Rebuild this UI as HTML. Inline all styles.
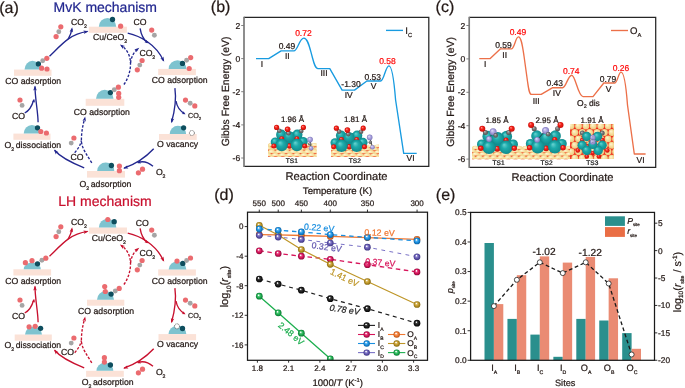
<!DOCTYPE html>
<html><head><meta charset="utf-8"><style>
html,body{margin:0;padding:0;background:#fff;width:685px;height:388px;overflow:hidden}
svg{display:block;will-change:transform}
text{font-family:"Liberation Sans",sans-serif;text-rendering:geometricPrecision}
</style></head><body>
<svg width="685" height="388" viewBox="0 0 685 388">
<defs><radialGradient id="gTeal" cx="50%" cy="50%" r="50%" fx="35%" fy="30%"><stop offset="0" stop-color="#6AD4D2"/><stop offset="0.45" stop-color="#1DABAB"/><stop offset="1" stop-color="#118A8C"/></radialGradient><radialGradient id="gRed" cx="50%" cy="50%" r="50%" fx="35%" fy="30%"><stop offset="0" stop-color="#FF9C92"/><stop offset="0.45" stop-color="#F5221A"/><stop offset="1" stop-color="#C80E08"/></radialGradient><radialGradient id="gGray" cx="50%" cy="50%" r="50%" fx="35%" fy="30%"><stop offset="0" stop-color="#C8C8C8"/><stop offset="0.45" stop-color="#7C7C7C"/><stop offset="1" stop-color="#525252"/></radialGradient><radialGradient id="gLav" cx="50%" cy="50%" r="50%" fx="35%" fy="30%"><stop offset="0" stop-color="#E4E0FA"/><stop offset="0.45" stop-color="#B3ACE4"/><stop offset="1" stop-color="#8078BC"/></radialGradient><radialGradient id="gSlab" cx="50%" cy="50%" r="50%" fx="35%" fy="30%"><stop offset="0" stop-color="#FFF8DC"/><stop offset="0.45" stop-color="#FAE8B0"/><stop offset="1" stop-color="#F2D48C"/></radialGradient><radialGradient id="gTan" cx="50%" cy="50%" r="50%" fx="35%" fy="30%"><stop offset="0" stop-color="#FFF6DA"/><stop offset="0.45" stop-color="#F8E3A6"/><stop offset="1" stop-color="#EDCB80"/></radialGradient><radialGradient id="gK" cx="50%" cy="50%" r="50%" fx="38%" fy="32%"><stop offset="0" stop-color="#ffffff"/><stop offset="0.12" stop-color="#ffffff" stop-opacity="0.9"/><stop offset="0.3" stop-color="#444444"/><stop offset="0.62" stop-color="#1E1E1E"/><stop offset="1" stop-color="#050505"/></radialGradient><radialGradient id="gM" cx="50%" cy="50%" r="50%" fx="38%" fy="32%"><stop offset="0" stop-color="#ffffff"/><stop offset="0.12" stop-color="#ffffff" stop-opacity="0.9"/><stop offset="0.3" stop-color="#E8508A"/><stop offset="0.62" stop-color="#D7145A"/><stop offset="1" stop-color="#8E0A3C"/></radialGradient><radialGradient id="gB" cx="50%" cy="50%" r="50%" fx="38%" fy="32%"><stop offset="0" stop-color="#ffffff"/><stop offset="0.12" stop-color="#ffffff" stop-opacity="0.9"/><stop offset="0.3" stop-color="#5BB6F2"/><stop offset="0.62" stop-color="#1A8FE0"/><stop offset="1" stop-color="#0E62A2"/></radialGradient><radialGradient id="gP" cx="50%" cy="50%" r="50%" fx="38%" fy="32%"><stop offset="0" stop-color="#ffffff"/><stop offset="0.12" stop-color="#ffffff" stop-opacity="0.9"/><stop offset="0.3" stop-color="#9189D0"/><stop offset="0.62" stop-color="#6459B0"/><stop offset="1" stop-color="#3E3582"/></radialGradient><radialGradient id="gO" cx="50%" cy="50%" r="50%" fx="38%" fy="32%"><stop offset="0" stop-color="#ffffff"/><stop offset="0.12" stop-color="#ffffff" stop-opacity="0.9"/><stop offset="0.3" stop-color="#F7A470"/><stop offset="0.62" stop-color="#F07832"/><stop offset="1" stop-color="#B85012"/></radialGradient><radialGradient id="gY" cx="50%" cy="50%" r="50%" fx="38%" fy="32%"><stop offset="0" stop-color="#ffffff"/><stop offset="0.12" stop-color="#ffffff" stop-opacity="0.9"/><stop offset="0.3" stop-color="#D8B85E"/><stop offset="0.62" stop-color="#BE9628"/><stop offset="1" stop-color="#85680E"/></radialGradient><radialGradient id="gG" cx="50%" cy="50%" r="50%" fx="38%" fy="32%"><stop offset="0" stop-color="#ffffff"/><stop offset="0.12" stop-color="#ffffff" stop-opacity="0.9"/><stop offset="0.3" stop-color="#5ACB80"/><stop offset="0.62" stop-color="#1EAF50"/><stop offset="1" stop-color="#0C7632"/></radialGradient><clipPath id="cB1"><rect x="268" y="140" width="48.6" height="17"/></clipPath><clipPath id="cB2"><rect x="331" y="140" width="48" height="17"/></clipPath><clipPath id="cC1"><rect x="472" y="140" width="98.4" height="19.3"/></clipPath><clipPath id="cTS3"><rect x="570.1" y="124.1" width="43.8" height="34.9"/></clipPath></defs>
<text x="53.5" y="12" font-size="14" fill="#22278F" stroke="#22278F" stroke-width="0.22">MvK mechanism</text>
<text x="58.3" y="205.7" font-size="14" fill="#C8102E" stroke="#C8102E" stroke-width="0.22">LH mechanism</text>
<path d="M49.50 56.20 C56.00 50.00 62.00 43.50 68.40 38.90 C74.00 35.00 80.00 32.60 87.50 31.40 " fill="none" stroke="#22278F" stroke-width="1.35"  stroke-linecap="butt"/>
<path d="M68.20 39.20 C70.00 36.00 71.30 32.50 72.00 28.80 " fill="none" stroke="#22278F" stroke-width="1.35"  stroke-linecap="butt"/>
<path d="M88.50,31.20 L83.97,33.95 L84.69,32.01 L83.25,30.53 Z" fill="#22278F"/>
<path d="M72.20,27.20 L73.06,32.43 L71.52,31.04 L69.61,31.82 Z" fill="#22278F"/>
<path d="M127.70 33.20 C140.00 36.00 156.00 44.00 163.50 60.80 " fill="none" stroke="#22278F" stroke-width="1.35"  stroke-linecap="butt"/>
<path d="M140.10 28.30 C141.00 34.00 143.00 39.00 147.50 42.80 " fill="none" stroke="#22278F" stroke-width="1.35"  stroke-linecap="butt"/>
<path d="M164.20,61.80 L160.31,58.21 L162.37,58.36 L163.40,56.56 Z" fill="#22278F"/>
<path d="M148.20,43.30 L144.48,42.14 L146.05,41.50 L146.41,39.84 Z" fill="#22278F"/>
<path d="M174.90 88.20 C176.00 96.00 175.00 110.00 171.60 122.00 " fill="none" stroke="#22278F" stroke-width="1.35"  stroke-linecap="butt"/>
<path d="M176.00 101.00 C177.00 107.00 180.00 111.00 184.50 113.60 " fill="none" stroke="#22278F" stroke-width="1.35"  stroke-linecap="butt"/>
<path d="M171.30,123.20 L170.90,117.92 L172.31,119.43 L174.28,118.82 Z" fill="#22278F"/>
<path d="M185.60,114.20 L181.70,114.04 L183.06,113.01 L182.97,111.32 Z" fill="#22278F"/>
<path d="M153.70 148.80 C146.00 157.00 136.00 164.00 124.00 168.20 " fill="none" stroke="#22278F" stroke-width="1.35"  stroke-linecap="butt"/>
<path d="M153.00 166.30 C148.00 162.00 142.00 161.00 137.70 162.60 " fill="none" stroke="#22278F" stroke-width="1.35"  stroke-linecap="butt"/>
<path d="M123.20,168.50 L127.41,165.29 L126.91,167.29 L128.50,168.62 Z" fill="#22278F"/>
<path d="M137.20,162.90 L140.29,160.52 L139.91,162.17 L141.07,163.42 Z" fill="#22278F"/>
<path d="M84.20 167.80 C72.00 163.00 61.00 158.00 54.60 150.30 " fill="none" stroke="#22278F" stroke-width="1.35"  stroke-linecap="butt"/>
<path d="M54.00,149.60 L58.55,152.31 L56.51,152.59 L55.87,154.56 Z" fill="#22278F"/>
<path d="M38.10 122.30 C38.00 112.00 35.00 98.00 35.00 86.50 " fill="none" stroke="#22278F" stroke-width="1.35"  stroke-linecap="butt"/>
<path d="M24.70 113.00 C29.00 111.00 32.00 106.00 33.80 99.80 " fill="none" stroke="#22278F" stroke-width="1.35"  stroke-linecap="butt"/>
<path d="M35.00,85.60 L36.75,90.60 L35.00,89.50 L33.25,90.60 Z" fill="#22278F"/>
<path d="M34.20,99.00 L35.05,102.81 L33.71,101.77 L32.10,102.28 Z" fill="#22278F"/>
<path d="M91.80 162.80 C87.00 155.00 81.40 148.00 81.40 140.20 C81.40 132.00 83.00 124.00 84.80 118.50 " fill="none" stroke="#22278F" stroke-width="1.35" stroke-dasharray="2.6,1.6" stroke-linecap="butt"/>
<path d="M74.70 152.70 C78.00 149.00 80.50 145.00 81.40 140.50 " fill="none" stroke="#22278F" stroke-width="1.35" stroke-dasharray="2.6,1.6" stroke-linecap="butt"/>
<path d="M85.20,116.50 L85.87,121.75 L84.39,120.31 L82.45,121.03 Z" fill="#22278F"/>
<path d="M123.90 84.50 C128.50 78.00 130.80 70.00 130.50 62.50 C130.20 55.00 126.50 49.00 121.30 45.60 " fill="none" stroke="#22278F" stroke-width="1.35" stroke-dasharray="2.6,1.6" stroke-linecap="butt"/>
<path d="M130.50 63.00 C131.30 56.50 134.20 51.50 138.20 48.60 " fill="none" stroke="#22278F" stroke-width="1.35" stroke-dasharray="2.6,1.6" stroke-linecap="butt"/>
<path d="M119.90,44.60 L125.00,46.03 L123.09,46.84 L122.99,48.90 Z" fill="#22278F"/>
<path d="M139.30,47.80 L136.44,52.26 L136.23,50.20 L134.28,49.50 Z" fill="#22278F"/>
<path d="M49.50 256.20 C56.00 250.00 62.00 243.50 68.40 238.90 C74.00 235.00 80.00 232.60 87.50 231.40 " fill="none" stroke="#C8102E" stroke-width="1.35"  stroke-linecap="butt"/>
<path d="M68.20 239.20 C70.00 236.00 71.30 232.50 72.00 228.80 " fill="none" stroke="#C8102E" stroke-width="1.35"  stroke-linecap="butt"/>
<path d="M88.50,231.20 L83.97,233.95 L84.69,232.01 L83.25,230.53 Z" fill="#C8102E"/>
<path d="M72.20,227.20 L73.06,232.43 L71.52,231.04 L69.61,231.82 Z" fill="#C8102E"/>
<path d="M127.70 233.20 C140.00 236.00 156.00 244.00 163.50 260.80 " fill="none" stroke="#C8102E" stroke-width="1.35"  stroke-linecap="butt"/>
<path d="M140.10 228.30 C141.00 234.00 143.00 239.00 147.50 242.80 " fill="none" stroke="#C8102E" stroke-width="1.35"  stroke-linecap="butt"/>
<path d="M164.20,261.80 L160.31,258.21 L162.37,258.36 L163.40,256.56 Z" fill="#C8102E"/>
<path d="M148.20,243.30 L144.48,242.14 L146.05,241.50 L146.41,239.84 Z" fill="#C8102E"/>
<path d="M174.90 288.20 C176.00 296.00 175.00 310.00 171.60 322.00 " fill="none" stroke="#C8102E" stroke-width="1.35"  stroke-linecap="butt"/>
<path d="M176.00 301.00 C177.00 307.00 180.00 311.00 184.50 313.60 " fill="none" stroke="#C8102E" stroke-width="1.35"  stroke-linecap="butt"/>
<path d="M171.30,323.20 L170.90,317.92 L172.31,319.43 L174.28,318.82 Z" fill="#C8102E"/>
<path d="M185.60,314.20 L181.70,314.04 L183.06,313.01 L182.97,311.32 Z" fill="#C8102E"/>
<path d="M153.70 348.80 C146.00 357.00 136.00 364.00 124.00 368.20 " fill="none" stroke="#C8102E" stroke-width="1.35"  stroke-linecap="butt"/>
<path d="M153.00 366.30 C148.00 362.00 142.00 361.00 137.70 362.60 " fill="none" stroke="#C8102E" stroke-width="1.35"  stroke-linecap="butt"/>
<path d="M123.20,368.50 L127.41,365.29 L126.91,367.29 L128.50,368.62 Z" fill="#C8102E"/>
<path d="M137.20,362.90 L140.29,360.52 L139.91,362.17 L141.07,363.42 Z" fill="#C8102E"/>
<path d="M84.20 367.80 C72.00 363.00 61.00 358.00 54.60 350.30 " fill="none" stroke="#C8102E" stroke-width="1.35"  stroke-linecap="butt"/>
<path d="M54.00,349.60 L58.55,352.31 L56.51,352.59 L55.87,354.56 Z" fill="#C8102E"/>
<path d="M38.10 322.30 C38.00 312.00 35.00 298.00 35.00 286.50 " fill="none" stroke="#C8102E" stroke-width="1.35"  stroke-linecap="butt"/>
<path d="M24.70 313.00 C29.00 311.00 32.00 306.00 33.80 299.80 " fill="none" stroke="#C8102E" stroke-width="1.35"  stroke-linecap="butt"/>
<path d="M35.00,285.60 L36.75,290.60 L35.00,289.50 L33.25,290.60 Z" fill="#C8102E"/>
<path d="M34.20,299.00 L35.05,302.81 L33.71,301.77 L32.10,302.28 Z" fill="#C8102E"/>
<path d="M91.80 362.80 C87.00 355.00 81.40 348.00 81.40 340.20 C81.40 332.00 83.00 324.00 84.80 318.50 " fill="none" stroke="#C8102E" stroke-width="1.35" stroke-dasharray="2.6,1.6" stroke-linecap="butt"/>
<path d="M74.70 352.70 C78.00 349.00 80.50 345.00 81.40 340.50 " fill="none" stroke="#C8102E" stroke-width="1.35" stroke-dasharray="2.6,1.6" stroke-linecap="butt"/>
<path d="M85.20,316.50 L85.87,321.75 L84.39,320.31 L82.45,321.03 Z" fill="#C8102E"/>
<path d="M123.90 284.50 C128.50 278.00 130.80 270.00 130.50 262.50 C130.20 255.00 126.50 249.00 121.30 245.60 " fill="none" stroke="#C8102E" stroke-width="1.35" stroke-dasharray="2.6,1.6" stroke-linecap="butt"/>
<path d="M130.50 263.00 C131.30 256.50 134.20 251.50 138.20 248.60 " fill="none" stroke="#C8102E" stroke-width="1.35" stroke-dasharray="2.6,1.6" stroke-linecap="butt"/>
<path d="M119.90,244.60 L125.00,246.03 L123.09,246.84 L122.99,248.90 Z" fill="#C8102E"/>
<path d="M139.30,247.80 L136.44,252.26 L136.23,250.20 L134.28,249.50 Z" fill="#C8102E"/>
<rect x="88.80" y="26.70" width="38.10" height="6.10" fill="#FBE2D7"/>
<path d="M98.80,26.70 A8.70,8.80 0 0 1 116.20,26.70 Z" fill="#7EC3CF"/>
<circle cx="112.50" cy="19.50" r="2.65" fill="#0E4E5E" />
<circle cx="120.60" cy="26.20" r="2.6" fill="#EB6B6F" />
<rect x="158.20" y="68.90" width="37.70" height="6.20" fill="#FBE2D7"/>
<path d="M168.65,68.90 A8.85,8.60 0 0 1 186.35,68.90 Z" fill="#7EC3CF"/>
<circle cx="182.50" cy="63.40" r="2.65" fill="#0E4E5E" />
<circle cx="186.60" cy="60.30" r="2.45" fill="#A5A5A5" />
<circle cx="190.70" cy="57.60" r="2.6" fill="#EB6B6F" />
<circle cx="189.20" cy="68.50" r="2.6" fill="#EB6B6F" />
<rect x="159.00" y="134.00" width="37.70" height="5.90" fill="#FBE2D7"/>
<path d="M169.70,134.00 A8.20,8.30 0 0 1 186.10,134.00 Z" fill="#7EC3CF"/>
<circle cx="183.60" cy="127.80" r="2.65" fill="#0E4E5E" />
<circle cx="191.90" cy="133.00" r="2.5" fill="#fff" stroke="#333" stroke-width="0.7" stroke-dasharray="1.0,0.6"/>
<rect x="87.00" y="171.00" width="38.00" height="6.60" fill="#FBE2D7"/>
<path d="M97.20,171.00 A8.55,8.40 0 0 1 114.30,171.00 Z" fill="#7EC3CF"/>
<circle cx="111.40" cy="165.50" r="2.65" fill="#0E4E5E" />
<circle cx="119.40" cy="166.00" r="2.6" fill="#EB6B6F" />
<circle cx="119.40" cy="170.70" r="2.6" fill="#EB6B6F" />
<rect x="13.40" y="133.60" width="37.10" height="6.20" fill="#FBE2D7"/>
<path d="M23.70,133.60 A8.25,8.60 0 0 1 40.20,133.60 Z" fill="#7EC3CF"/>
<circle cx="37.50" cy="127.80" r="2.65" fill="#0E4E5E" />
<circle cx="40.80" cy="131.50" r="2.6" fill="#EB6B6F" />
<circle cx="46.40" cy="133.00" r="2.6" fill="#EB6B6F" />
<rect x="14.00" y="69.60" width="37.50" height="6.20" fill="#FBE2D7"/>
<path d="M24.55,69.60 A7.90,8.80 0 0 1 40.35,69.60 Z" fill="#7EC3CF"/>
<circle cx="38.40" cy="63.90" r="2.65" fill="#0E4E5E" />
<circle cx="42.70" cy="60.80" r="2.45" fill="#A5A5A5" />
<circle cx="46.80" cy="58.30" r="2.6" fill="#EB6B6F" />
<circle cx="41.60" cy="68.20" r="2.6" fill="#EB6B6F" />
<circle cx="47.00" cy="69.00" r="2.6" fill="#EB6B6F" />
<rect x="85.70" y="98.80" width="38.60" height="7.00" fill="#FBE2D7"/>
<path d="M96.00,98.80 A8.75,9.00 0 0 1 113.50,98.80 Z" fill="#7EC3CF"/>
<circle cx="110.40" cy="92.60" r="2.65" fill="#0E4E5E" />
<circle cx="114.30" cy="89.80" r="2.45" fill="#A5A5A5" />
<circle cx="118.40" cy="87.20" r="2.6" fill="#EB6B6F" />
<circle cx="118.70" cy="93.40" r="2.6" fill="#EB6B6F" />
<circle cx="118.70" cy="97.30" r="2.6" fill="#EB6B6F" />
<rect x="88.90" y="227.50" width="38.10" height="6.20" fill="#FBE2D7"/>
<path d="M98.90,227.50 A8.70,8.80 0 0 1 116.30,227.50 Z" fill="#7EC3CF"/>
<circle cx="107.80" cy="219.50" r="2.6" fill="#EB6B6F" />
<circle cx="114.20" cy="221.70" r="2.65" fill="#0E4E5E" />
<rect x="158.20" y="269.40" width="37.70" height="6.20" fill="#FBE2D7"/>
<path d="M168.65,269.40 A8.85,8.00 0 0 1 186.35,269.40 Z" fill="#7EC3CF"/>
<circle cx="177.00" cy="261.10" r="2.6" fill="#EB6B6F" />
<circle cx="182.80" cy="263.40" r="2.65" fill="#0E4E5E" />
<circle cx="186.60" cy="260.50" r="2.45" fill="#A5A5A5" />
<circle cx="190.50" cy="258.00" r="2.6" fill="#EB6B6F" />
<rect x="158.50" y="334.10" width="37.60" height="6.20" fill="#FBE2D7"/>
<path d="M168.50,334.10 A8.90,8.30 0 0 1 186.30,334.10 Z" fill="#7EC3CF"/>
<circle cx="177.00" cy="326.30" r="2.5" fill="#fff" stroke="#333" stroke-width="0.7" stroke-dasharray="1.0,0.6"/>
<circle cx="182.50" cy="328.50" r="2.65" fill="#0E4E5E" />
<rect x="86.10" y="370.80" width="37.70" height="6.00" fill="#FBE2D7"/>
<path d="M96.40,370.80 A8.45,8.00 0 0 1 113.30,370.80 Z" fill="#7EC3CF"/>
<circle cx="104.40" cy="357.70" r="2.6" fill="#EB6B6F" />
<circle cx="104.40" cy="362.10" r="2.6" fill="#EB6B6F" />
<circle cx="110.40" cy="365.00" r="2.65" fill="#0E4E5E" />
<rect x="14.70" y="334.50" width="37.10" height="6.20" fill="#FBE2D7"/>
<path d="M25.00,334.50 A8.50,7.70 0 0 1 42.00,334.50 Z" fill="#7EC3CF"/>
<circle cx="29.10" cy="326.80" r="2.6" fill="#EB6B6F" />
<circle cx="35.20" cy="326.30" r="2.6" fill="#EB6B6F" />
<circle cx="40.60" cy="328.30" r="2.65" fill="#0E4E5E" />
<rect x="13.40" y="269.30" width="37.70" height="6.20" fill="#FBE2D7"/>
<path d="M23.70,269.30 A8.55,6.80 0 0 1 40.80,269.30 Z" fill="#7EC3CF"/>
<circle cx="25.40" cy="262.70" r="2.6" fill="#EB6B6F" />
<circle cx="32.00" cy="260.70" r="2.6" fill="#EB6B6F" />
<circle cx="37.50" cy="263.80" r="2.65" fill="#0E4E5E" />
<circle cx="41.90" cy="260.30" r="2.45" fill="#A5A5A5" />
<circle cx="45.80" cy="258.20" r="2.6" fill="#EB6B6F" />
<rect x="87.00" y="299.70" width="37.30" height="6.00" fill="#FBE2D7"/>
<path d="M97.00,299.70 A8.50,8.40 0 0 1 114.00,299.70 Z" fill="#7EC3CF"/>
<circle cx="104.70" cy="286.50" r="2.6" fill="#EB6B6F" />
<circle cx="105.30" cy="291.50" r="2.6" fill="#EB6B6F" />
<circle cx="111.10" cy="294.10" r="2.65" fill="#0E4E5E" />
<circle cx="115.30" cy="291.00" r="2.45" fill="#A5A5A5" />
<circle cx="119.20" cy="288.40" r="2.6" fill="#EB6B6F" />
<circle cx="60.80" cy="26.80" r="2.6" fill="#EB6B6F" />
<circle cx="58.80" cy="31.70" r="2.45" fill="#A5A5A5" />
<circle cx="56.10" cy="36.60" r="2.6" fill="#EB6B6F" />
<text x="71.10" y="24.70" font-size="8.7" fill="#231815" text-anchor="start" stroke="#231815" stroke-width="0.22">CO<tspan font-size="5.22" dx="-0.1" dy="3.13">2</tspan></text>
<circle cx="151.70" cy="30.10" r="2.6" fill="#EB6B6F" />
<circle cx="154.40" cy="35.20" r="2.45" fill="#A5A5A5" />
<text x="133.60" y="24.60" font-size="8.7" fill="#231815" text-anchor="start" stroke="#231815" stroke-width="0.22">CO</text>
<circle cx="142.10" cy="60.50" r="2.6" fill="#EB6B6F" />
<circle cx="139.80" cy="65.10" r="2.45" fill="#A5A5A5" />
<circle cx="137.30" cy="69.80" r="2.6" fill="#EB6B6F" />
<text x="139.40" y="55.60" font-size="8.7" fill="#231815" text-anchor="start" stroke="#231815" stroke-width="0.22">CO<tspan font-size="5.22" dx="-0.1" dy="3.13">2</tspan></text>
<circle cx="185.50" cy="100.10" r="2.6" fill="#EB6B6F" />
<circle cx="190.20" cy="103.20" r="2.45" fill="#A5A5A5" />
<circle cx="194.80" cy="105.90" r="2.6" fill="#EB6B6F" />
<text x="188.00" y="117.60" font-size="7.2" fill="#231815" text-anchor="start" stroke="#231815" stroke-width="0.22">CO<tspan font-size="4.32" dx="-0.1" dy="2.59">2</tspan></text>
<circle cx="138.40" cy="172.80" r="2.6" fill="#EB6B6F" />
<circle cx="142.50" cy="169.20" r="2.6" fill="#EB6B6F" />
<text x="155.90" y="174.70" font-size="8.7" fill="#231815" text-anchor="start" stroke="#231815" stroke-width="0.22">O<tspan font-size="5.22" dx="-0.1" dy="3.13">2</tspan></text>
<circle cx="73.90" cy="138.00" r="2.6" fill="#EB6B6F" />
<circle cx="71.20" cy="143.10" r="2.45" fill="#A5A5A5" />
<text x="70.60" y="160.10" font-size="8.7" fill="#231815" text-anchor="start" stroke="#231815" stroke-width="0.22">CO</text>
<circle cx="20.00" cy="100.00" r="2.6" fill="#EB6B6F" />
<circle cx="22.10" cy="105.40" r="2.45" fill="#A5A5A5" />
<text x="12.00" y="119.20" font-size="8.7" fill="#231815" text-anchor="start" stroke="#231815" stroke-width="0.22">CO</text>
<text x="92.90" y="40.00" font-size="8.7" fill="#231815" text-anchor="start" stroke="#231815" stroke-width="0.22">Cu/CeO<tspan font-size="5.22" dx="-0.1" dy="3.13">2</tspan></text>
<text x="151.70" y="83.20" font-size="8.7" fill="#231815" text-anchor="start" stroke="#231815" stroke-width="0.22">CO adsorption</text>
<text x="157.10" y="147.10" font-size="8.7" fill="#231815" text-anchor="start" stroke="#231815" stroke-width="0.22">O vacancy</text>
<text x="79.60" y="186.60" font-size="8.7" fill="#231815" text-anchor="start" stroke="#231815" stroke-width="0.22">O<tspan font-size="5.22" dx="-0.1" dy="3.13">2</tspan><tspan dx="-0.8" dy="-3.13"> adsorption</tspan></text>
<text x="4.50" y="147.60" font-size="8.7" fill="#231815" text-anchor="start" stroke="#231815" stroke-width="0.22">O<tspan font-size="5.22" dx="-0.1" dy="3.13">2</tspan><tspan dx="-0.8" dy="-3.13"> dissociation</tspan></text>
<text x="5.20" y="84.00" font-size="8.7" fill="#231815" text-anchor="start" stroke="#231815" stroke-width="0.22">CO adsorption</text>
<text x="73.80" y="114.50" font-size="8.7" fill="#231815" text-anchor="start" stroke="#231815" stroke-width="0.22">CO adsorption</text>
<circle cx="60.80" cy="226.80" r="2.6" fill="#EB6B6F" />
<circle cx="58.80" cy="231.70" r="2.45" fill="#A5A5A5" />
<circle cx="56.10" cy="236.60" r="2.6" fill="#EB6B6F" />
<text x="71.10" y="224.70" font-size="8.7" fill="#231815" text-anchor="start" stroke="#231815" stroke-width="0.22">CO<tspan font-size="5.22" dx="-0.1" dy="3.13">2</tspan></text>
<circle cx="151.70" cy="230.10" r="2.6" fill="#EB6B6F" />
<circle cx="154.40" cy="235.20" r="2.45" fill="#A5A5A5" />
<text x="135.80" y="225.80" font-size="8.7" fill="#231815" text-anchor="start" stroke="#231815" stroke-width="0.22">CO</text>
<circle cx="142.10" cy="260.50" r="2.6" fill="#EB6B6F" />
<circle cx="139.80" cy="265.10" r="2.45" fill="#A5A5A5" />
<circle cx="137.30" cy="269.80" r="2.6" fill="#EB6B6F" />
<text x="139.40" y="255.60" font-size="8.7" fill="#231815" text-anchor="start" stroke="#231815" stroke-width="0.22">CO<tspan font-size="5.22" dx="-0.1" dy="3.13">2</tspan></text>
<circle cx="185.50" cy="300.10" r="2.6" fill="#EB6B6F" />
<circle cx="190.20" cy="303.20" r="2.45" fill="#A5A5A5" />
<circle cx="194.80" cy="305.90" r="2.6" fill="#EB6B6F" />
<text x="188.00" y="317.60" font-size="7.2" fill="#231815" text-anchor="start" stroke="#231815" stroke-width="0.22">CO<tspan font-size="4.32" dx="-0.1" dy="2.59">2</tspan></text>
<circle cx="138.40" cy="372.80" r="2.6" fill="#EB6B6F" />
<circle cx="142.50" cy="369.20" r="2.6" fill="#EB6B6F" />
<text x="155.90" y="374.70" font-size="8.7" fill="#231815" text-anchor="start" stroke="#231815" stroke-width="0.22">O<tspan font-size="5.22" dx="-0.1" dy="3.13">2</tspan></text>
<circle cx="73.90" cy="338.00" r="2.6" fill="#EB6B6F" />
<circle cx="71.20" cy="343.10" r="2.45" fill="#A5A5A5" />
<text x="61.00" y="354.50" font-size="8.7" fill="#231815" text-anchor="start" stroke="#231815" stroke-width="0.22">CO</text>
<circle cx="20.00" cy="300.00" r="2.6" fill="#EB6B6F" />
<circle cx="22.10" cy="305.40" r="2.45" fill="#A5A5A5" />
<text x="12.00" y="319.20" font-size="8.7" fill="#231815" text-anchor="start" stroke="#231815" stroke-width="0.22">CO</text>
<text x="91.70" y="240.70" font-size="8.7" fill="#231815" text-anchor="start" stroke="#231815" stroke-width="0.22">Cu/CeO<tspan font-size="5.22" dx="-0.1" dy="3.13">2</tspan></text>
<text x="151.70" y="283.80" font-size="8.7" fill="#231815" text-anchor="start" stroke="#231815" stroke-width="0.22">CO adsorption</text>
<text x="157.10" y="347.10" font-size="8.7" fill="#231815" text-anchor="start" stroke="#231815" stroke-width="0.22">O vacancy</text>
<text x="81.80" y="385.20" font-size="8.7" fill="#231815" text-anchor="start" stroke="#231815" stroke-width="0.22">O<tspan font-size="5.22" dx="-0.1" dy="3.13">2</tspan><tspan dx="-0.8" dy="-3.13"> adsorption</tspan></text>
<text x="4.50" y="347.60" font-size="8.7" fill="#231815" text-anchor="start" stroke="#231815" stroke-width="0.22">O<tspan font-size="5.22" dx="-0.1" dy="3.13">2</tspan><tspan dx="-0.8" dy="-3.13"> dissociation</tspan></text>
<text x="5.20" y="284.00" font-size="8.7" fill="#231815" text-anchor="start" stroke="#231815" stroke-width="0.22">CO adsorption</text>
<text x="78.10" y="313.50" font-size="8.7" fill="#231815" text-anchor="start" stroke="#231815" stroke-width="0.22">CO adsorption</text>
<text x="-0.8" y="12.6" font-size="16" fill="#231815" stroke="#231815" stroke-width="0.22">(a)</text>
<text x="210.80" y="11.80" font-size="16" fill="#231815" text-anchor="start"  stroke="#231815" stroke-width="0.22">(b)</text>
<path d="M244,17.4 H428.8 V166.3 H244" fill="none" stroke="#262626" stroke-width="1.25"/>
<line x1="244" y1="16.799999999999997" x2="244" y2="166.9" stroke="#7a7a7a" stroke-width="1.7"/>
<line x1="241.2" y1="25.50" x2="244" y2="25.50" stroke="#777" stroke-width="0.9"/>
<text x="240.20" y="28.50" font-size="8.6" fill="#231815" text-anchor="end"  stroke="#231815" stroke-width="0.22">2</text>
<line x1="241.2" y1="58.60" x2="244" y2="58.60" stroke="#777" stroke-width="0.9"/>
<text x="240.20" y="61.60" font-size="8.6" fill="#231815" text-anchor="end"  stroke="#231815" stroke-width="0.22">0</text>
<line x1="241.2" y1="91.70" x2="244" y2="91.70" stroke="#777" stroke-width="0.9"/>
<text x="240.20" y="94.70" font-size="8.6" fill="#231815" text-anchor="end"  stroke="#231815" stroke-width="0.22">-2</text>
<line x1="241.2" y1="124.90" x2="244" y2="124.90" stroke="#777" stroke-width="0.9"/>
<text x="240.20" y="127.90" font-size="8.6" fill="#231815" text-anchor="end"  stroke="#231815" stroke-width="0.22">-4</text>
<line x1="241.2" y1="158.00" x2="244" y2="158.00" stroke="#777" stroke-width="0.9"/>
<text x="240.20" y="161.00" font-size="8.6" fill="#231815" text-anchor="end"  stroke="#231815" stroke-width="0.22">-6</text>
<text transform="translate(228.6,91.5) rotate(-90)" font-size="10.4" fill="#231815" text-anchor="middle" stroke="#231815" stroke-width="0.22">Gibbs Free Energy (eV)</text>
<text x="336.50" y="179.90" font-size="11.2" fill="#231815" text-anchor="middle"  stroke="#231815" stroke-width="0.22">Reaction Coordinate</text>
<g clip-path="url(#cB1)"><rect x="268" y="144.5" width="48.60000000000002" height="12.300000000000011" fill="#F7E3A6"/>
<ellipse cx="264.40" cy="145.16" rx="3.7" ry="2.06" fill="url(#gSlab)"/>
<ellipse cx="271.60" cy="145.16" rx="3.7" ry="2.06" fill="url(#gSlab)"/>
<ellipse cx="278.80" cy="145.16" rx="3.7" ry="2.06" fill="url(#gSlab)"/>
<ellipse cx="286.00" cy="145.16" rx="3.7" ry="2.06" fill="url(#gSlab)"/>
<ellipse cx="293.20" cy="145.16" rx="3.7" ry="2.06" fill="url(#gSlab)"/>
<ellipse cx="300.40" cy="145.16" rx="3.7" ry="2.06" fill="url(#gSlab)"/>
<ellipse cx="307.60" cy="145.16" rx="3.7" ry="2.06" fill="url(#gSlab)"/>
<ellipse cx="314.80" cy="145.16" rx="3.7" ry="2.06" fill="url(#gSlab)"/>
<ellipse cx="264.70" cy="146.99" rx="2.1" ry="0.75" fill="#F2452C" opacity="0.9"/>
<ellipse cx="271.90" cy="146.99" rx="2.1" ry="0.75" fill="#F2452C" opacity="0.9"/>
<ellipse cx="279.10" cy="146.99" rx="2.1" ry="0.75" fill="#F2452C" opacity="0.9"/>
<ellipse cx="286.30" cy="146.99" rx="2.1" ry="0.75" fill="#F2452C" opacity="0.9"/>
<ellipse cx="293.50" cy="146.99" rx="2.1" ry="0.75" fill="#F2452C" opacity="0.9"/>
<ellipse cx="300.70" cy="146.99" rx="2.1" ry="0.75" fill="#F2452C" opacity="0.9"/>
<ellipse cx="307.90" cy="146.99" rx="2.1" ry="0.75" fill="#F2452C" opacity="0.9"/>
<ellipse cx="315.10" cy="146.99" rx="2.1" ry="0.75" fill="#F2452C" opacity="0.9"/>
<ellipse cx="268.00" cy="148.49" rx="3.7" ry="2.06" fill="url(#gSlab)"/>
<ellipse cx="275.20" cy="148.49" rx="3.7" ry="2.06" fill="url(#gSlab)"/>
<ellipse cx="282.40" cy="148.49" rx="3.7" ry="2.06" fill="url(#gSlab)"/>
<ellipse cx="289.60" cy="148.49" rx="3.7" ry="2.06" fill="url(#gSlab)"/>
<ellipse cx="296.80" cy="148.49" rx="3.7" ry="2.06" fill="url(#gSlab)"/>
<ellipse cx="304.00" cy="148.49" rx="3.7" ry="2.06" fill="url(#gSlab)"/>
<ellipse cx="311.20" cy="148.49" rx="3.7" ry="2.06" fill="url(#gSlab)"/>
<ellipse cx="318.40" cy="148.49" rx="3.7" ry="2.06" fill="url(#gSlab)"/>
<ellipse cx="268.30" cy="150.32" rx="2.1" ry="0.75" fill="#F2452C" opacity="0.9"/>
<ellipse cx="275.50" cy="150.32" rx="2.1" ry="0.75" fill="#F2452C" opacity="0.9"/>
<ellipse cx="282.70" cy="150.32" rx="2.1" ry="0.75" fill="#F2452C" opacity="0.9"/>
<ellipse cx="289.90" cy="150.32" rx="2.1" ry="0.75" fill="#F2452C" opacity="0.9"/>
<ellipse cx="297.10" cy="150.32" rx="2.1" ry="0.75" fill="#F2452C" opacity="0.9"/>
<ellipse cx="304.30" cy="150.32" rx="2.1" ry="0.75" fill="#F2452C" opacity="0.9"/>
<ellipse cx="311.50" cy="150.32" rx="2.1" ry="0.75" fill="#F2452C" opacity="0.9"/>
<ellipse cx="318.70" cy="150.32" rx="2.1" ry="0.75" fill="#F2452C" opacity="0.9"/>
<ellipse cx="264.40" cy="151.81" rx="3.7" ry="2.06" fill="url(#gSlab)"/>
<ellipse cx="271.60" cy="151.81" rx="3.7" ry="2.06" fill="url(#gSlab)"/>
<ellipse cx="278.80" cy="151.81" rx="3.7" ry="2.06" fill="url(#gSlab)"/>
<ellipse cx="286.00" cy="151.81" rx="3.7" ry="2.06" fill="url(#gSlab)"/>
<ellipse cx="293.20" cy="151.81" rx="3.7" ry="2.06" fill="url(#gSlab)"/>
<ellipse cx="300.40" cy="151.81" rx="3.7" ry="2.06" fill="url(#gSlab)"/>
<ellipse cx="307.60" cy="151.81" rx="3.7" ry="2.06" fill="url(#gSlab)"/>
<ellipse cx="314.80" cy="151.81" rx="3.7" ry="2.06" fill="url(#gSlab)"/>
<ellipse cx="264.70" cy="153.64" rx="2.1" ry="0.75" fill="#F2452C" opacity="0.9"/>
<ellipse cx="271.90" cy="153.64" rx="2.1" ry="0.75" fill="#F2452C" opacity="0.9"/>
<ellipse cx="279.10" cy="153.64" rx="2.1" ry="0.75" fill="#F2452C" opacity="0.9"/>
<ellipse cx="286.30" cy="153.64" rx="2.1" ry="0.75" fill="#F2452C" opacity="0.9"/>
<ellipse cx="293.50" cy="153.64" rx="2.1" ry="0.75" fill="#F2452C" opacity="0.9"/>
<ellipse cx="300.70" cy="153.64" rx="2.1" ry="0.75" fill="#F2452C" opacity="0.9"/>
<ellipse cx="307.90" cy="153.64" rx="2.1" ry="0.75" fill="#F2452C" opacity="0.9"/>
<ellipse cx="315.10" cy="153.64" rx="2.1" ry="0.75" fill="#F2452C" opacity="0.9"/>
<ellipse cx="268.00" cy="155.14" rx="3.7" ry="2.06" fill="url(#gSlab)"/>
<ellipse cx="275.20" cy="155.14" rx="3.7" ry="2.06" fill="url(#gSlab)"/>
<ellipse cx="282.40" cy="155.14" rx="3.7" ry="2.06" fill="url(#gSlab)"/>
<ellipse cx="289.60" cy="155.14" rx="3.7" ry="2.06" fill="url(#gSlab)"/>
<ellipse cx="296.80" cy="155.14" rx="3.7" ry="2.06" fill="url(#gSlab)"/>
<ellipse cx="304.00" cy="155.14" rx="3.7" ry="2.06" fill="url(#gSlab)"/>
<ellipse cx="311.20" cy="155.14" rx="3.7" ry="2.06" fill="url(#gSlab)"/>
<ellipse cx="318.40" cy="155.14" rx="3.7" ry="2.06" fill="url(#gSlab)"/>
<ellipse cx="268.30" cy="156.97" rx="2.1" ry="0.75" fill="#F2452C" opacity="0.9"/>
<ellipse cx="275.50" cy="156.97" rx="2.1" ry="0.75" fill="#F2452C" opacity="0.9"/>
<ellipse cx="282.70" cy="156.97" rx="2.1" ry="0.75" fill="#F2452C" opacity="0.9"/>
<ellipse cx="289.90" cy="156.97" rx="2.1" ry="0.75" fill="#F2452C" opacity="0.9"/>
<ellipse cx="297.10" cy="156.97" rx="2.1" ry="0.75" fill="#F2452C" opacity="0.9"/>
<ellipse cx="304.30" cy="156.97" rx="2.1" ry="0.75" fill="#F2452C" opacity="0.9"/>
<ellipse cx="311.50" cy="156.97" rx="2.1" ry="0.75" fill="#F2452C" opacity="0.9"/>
<ellipse cx="318.70" cy="156.97" rx="2.1" ry="0.75" fill="#F2452C" opacity="0.9"/></g>
<ellipse cx="289.50" cy="139.50" rx="13" ry="7.5" fill="#148F91"/>
<circle cx="281.20" cy="134.70" r="5.1" fill="url(#gTeal)"/>
<circle cx="297.40" cy="134.70" r="5.1" fill="url(#gTeal)"/>
<circle cx="289.00" cy="136.70" r="5.6" fill="url(#gTeal)"/>
<line x1="276.60" y1="127.40" x2="279.30" y2="130.80" stroke="#5a5a5a" stroke-width="2.2"/>
<circle cx="279.30" cy="130.80" r="2.3" fill="url(#gGray)"/>
<circle cx="276.60" cy="127.40" r="2.6" fill="url(#gRed)"/>
<line x1="287.60" y1="129.30" x2="288.50" y2="133.30" stroke="#5a5a5a" stroke-width="2.2"/>
<circle cx="288.50" cy="133.30" r="2.3" fill="url(#gGray)"/>
<circle cx="287.60" cy="129.30" r="2.8" fill="url(#gRed)"/>
<line x1="303.40" y1="127.40" x2="301.30" y2="131.00" stroke="#5a5a5a" stroke-width="2.2"/>
<circle cx="301.30" cy="131.00" r="2.3" fill="url(#gGray)"/>
<circle cx="303.40" cy="127.40" r="2.6" fill="url(#gRed)"/>
<circle cx="281.70" cy="138.60" r="2.4" fill="url(#gRed)"/>
<circle cx="296.90" cy="138.60" r="2.4" fill="url(#gRed)"/>
<circle cx="275.30" cy="142.00" r="4.6" fill="url(#gTeal)"/>
<circle cx="303.20" cy="141.60" r="4.6" fill="url(#gTeal)"/>
<circle cx="289.50" cy="146.00" r="2.7" fill="url(#gRed)"/>
<circle cx="281.70" cy="145.00" r="6.2" fill="url(#gTeal)"/>
<circle cx="296.90" cy="145.00" r="6.2" fill="url(#gTeal)"/>
<circle cx="273.90" cy="146.00" r="2.5" fill="url(#gRed)"/>
<circle cx="304.70" cy="146.00" r="2.5" fill="url(#gRed)"/>
<line x1="310.10" y1="139.60" x2="311.10" y2="148.20" stroke="#444" stroke-width="1"/>
<circle cx="309.80" cy="143.90" r="1.7" fill="url(#gGray)"/>
<circle cx="310.10" cy="139.60" r="2.8" fill="url(#gLav)"/>
<circle cx="311.10" cy="148.20" r="2.3" fill="url(#gLav)"/>
<g clip-path="url(#cB2)"><rect x="331" y="145.8" width="48" height="11.0" fill="#F7E3A6"/>
<ellipse cx="327.40" cy="146.30" rx="3.7" ry="1.86" fill="url(#gSlab)"/>
<ellipse cx="334.60" cy="146.30" rx="3.7" ry="1.86" fill="url(#gSlab)"/>
<ellipse cx="341.80" cy="146.30" rx="3.7" ry="1.86" fill="url(#gSlab)"/>
<ellipse cx="349.00" cy="146.30" rx="3.7" ry="1.86" fill="url(#gSlab)"/>
<ellipse cx="356.20" cy="146.30" rx="3.7" ry="1.86" fill="url(#gSlab)"/>
<ellipse cx="363.40" cy="146.30" rx="3.7" ry="1.86" fill="url(#gSlab)"/>
<ellipse cx="370.60" cy="146.30" rx="3.7" ry="1.86" fill="url(#gSlab)"/>
<ellipse cx="377.80" cy="146.30" rx="3.7" ry="1.86" fill="url(#gSlab)"/>
<ellipse cx="327.70" cy="147.95" rx="2.1" ry="0.75" fill="#F2452C" opacity="0.9"/>
<ellipse cx="334.90" cy="147.95" rx="2.1" ry="0.75" fill="#F2452C" opacity="0.9"/>
<ellipse cx="342.10" cy="147.95" rx="2.1" ry="0.75" fill="#F2452C" opacity="0.9"/>
<ellipse cx="349.30" cy="147.95" rx="2.1" ry="0.75" fill="#F2452C" opacity="0.9"/>
<ellipse cx="356.50" cy="147.95" rx="2.1" ry="0.75" fill="#F2452C" opacity="0.9"/>
<ellipse cx="363.70" cy="147.95" rx="2.1" ry="0.75" fill="#F2452C" opacity="0.9"/>
<ellipse cx="370.90" cy="147.95" rx="2.1" ry="0.75" fill="#F2452C" opacity="0.9"/>
<ellipse cx="378.10" cy="147.95" rx="2.1" ry="0.75" fill="#F2452C" opacity="0.9"/>
<ellipse cx="331.00" cy="149.30" rx="3.7" ry="1.86" fill="url(#gSlab)"/>
<ellipse cx="338.20" cy="149.30" rx="3.7" ry="1.86" fill="url(#gSlab)"/>
<ellipse cx="345.40" cy="149.30" rx="3.7" ry="1.86" fill="url(#gSlab)"/>
<ellipse cx="352.60" cy="149.30" rx="3.7" ry="1.86" fill="url(#gSlab)"/>
<ellipse cx="359.80" cy="149.30" rx="3.7" ry="1.86" fill="url(#gSlab)"/>
<ellipse cx="367.00" cy="149.30" rx="3.7" ry="1.86" fill="url(#gSlab)"/>
<ellipse cx="374.20" cy="149.30" rx="3.7" ry="1.86" fill="url(#gSlab)"/>
<ellipse cx="381.40" cy="149.30" rx="3.7" ry="1.86" fill="url(#gSlab)"/>
<ellipse cx="331.30" cy="150.95" rx="2.1" ry="0.75" fill="#F2452C" opacity="0.9"/>
<ellipse cx="338.50" cy="150.95" rx="2.1" ry="0.75" fill="#F2452C" opacity="0.9"/>
<ellipse cx="345.70" cy="150.95" rx="2.1" ry="0.75" fill="#F2452C" opacity="0.9"/>
<ellipse cx="352.90" cy="150.95" rx="2.1" ry="0.75" fill="#F2452C" opacity="0.9"/>
<ellipse cx="360.10" cy="150.95" rx="2.1" ry="0.75" fill="#F2452C" opacity="0.9"/>
<ellipse cx="367.30" cy="150.95" rx="2.1" ry="0.75" fill="#F2452C" opacity="0.9"/>
<ellipse cx="374.50" cy="150.95" rx="2.1" ry="0.75" fill="#F2452C" opacity="0.9"/>
<ellipse cx="381.70" cy="150.95" rx="2.1" ry="0.75" fill="#F2452C" opacity="0.9"/>
<ellipse cx="327.40" cy="152.30" rx="3.7" ry="1.86" fill="url(#gSlab)"/>
<ellipse cx="334.60" cy="152.30" rx="3.7" ry="1.86" fill="url(#gSlab)"/>
<ellipse cx="341.80" cy="152.30" rx="3.7" ry="1.86" fill="url(#gSlab)"/>
<ellipse cx="349.00" cy="152.30" rx="3.7" ry="1.86" fill="url(#gSlab)"/>
<ellipse cx="356.20" cy="152.30" rx="3.7" ry="1.86" fill="url(#gSlab)"/>
<ellipse cx="363.40" cy="152.30" rx="3.7" ry="1.86" fill="url(#gSlab)"/>
<ellipse cx="370.60" cy="152.30" rx="3.7" ry="1.86" fill="url(#gSlab)"/>
<ellipse cx="377.80" cy="152.30" rx="3.7" ry="1.86" fill="url(#gSlab)"/>
<ellipse cx="327.70" cy="153.95" rx="2.1" ry="0.75" fill="#F2452C" opacity="0.9"/>
<ellipse cx="334.90" cy="153.95" rx="2.1" ry="0.75" fill="#F2452C" opacity="0.9"/>
<ellipse cx="342.10" cy="153.95" rx="2.1" ry="0.75" fill="#F2452C" opacity="0.9"/>
<ellipse cx="349.30" cy="153.95" rx="2.1" ry="0.75" fill="#F2452C" opacity="0.9"/>
<ellipse cx="356.50" cy="153.95" rx="2.1" ry="0.75" fill="#F2452C" opacity="0.9"/>
<ellipse cx="363.70" cy="153.95" rx="2.1" ry="0.75" fill="#F2452C" opacity="0.9"/>
<ellipse cx="370.90" cy="153.95" rx="2.1" ry="0.75" fill="#F2452C" opacity="0.9"/>
<ellipse cx="378.10" cy="153.95" rx="2.1" ry="0.75" fill="#F2452C" opacity="0.9"/>
<ellipse cx="331.00" cy="155.30" rx="3.7" ry="1.86" fill="url(#gSlab)"/>
<ellipse cx="338.20" cy="155.30" rx="3.7" ry="1.86" fill="url(#gSlab)"/>
<ellipse cx="345.40" cy="155.30" rx="3.7" ry="1.86" fill="url(#gSlab)"/>
<ellipse cx="352.60" cy="155.30" rx="3.7" ry="1.86" fill="url(#gSlab)"/>
<ellipse cx="359.80" cy="155.30" rx="3.7" ry="1.86" fill="url(#gSlab)"/>
<ellipse cx="367.00" cy="155.30" rx="3.7" ry="1.86" fill="url(#gSlab)"/>
<ellipse cx="374.20" cy="155.30" rx="3.7" ry="1.86" fill="url(#gSlab)"/>
<ellipse cx="381.40" cy="155.30" rx="3.7" ry="1.86" fill="url(#gSlab)"/>
<ellipse cx="331.30" cy="156.95" rx="2.1" ry="0.75" fill="#F2452C" opacity="0.9"/>
<ellipse cx="338.50" cy="156.95" rx="2.1" ry="0.75" fill="#F2452C" opacity="0.9"/>
<ellipse cx="345.70" cy="156.95" rx="2.1" ry="0.75" fill="#F2452C" opacity="0.9"/>
<ellipse cx="352.90" cy="156.95" rx="2.1" ry="0.75" fill="#F2452C" opacity="0.9"/>
<ellipse cx="360.10" cy="156.95" rx="2.1" ry="0.75" fill="#F2452C" opacity="0.9"/>
<ellipse cx="367.30" cy="156.95" rx="2.1" ry="0.75" fill="#F2452C" opacity="0.9"/>
<ellipse cx="374.50" cy="156.95" rx="2.1" ry="0.75" fill="#F2452C" opacity="0.9"/>
<ellipse cx="381.70" cy="156.95" rx="2.1" ry="0.75" fill="#F2452C" opacity="0.9"/></g>
<ellipse cx="349.30" cy="140.30" rx="13" ry="7.5" fill="#148F91"/>
<circle cx="341.00" cy="135.50" r="5.1" fill="url(#gTeal)"/>
<circle cx="357.20" cy="135.50" r="5.1" fill="url(#gTeal)"/>
<circle cx="348.80" cy="137.50" r="5.6" fill="url(#gTeal)"/>
<line x1="336.40" y1="128.20" x2="339.10" y2="131.60" stroke="#5a5a5a" stroke-width="2.2"/>
<circle cx="339.10" cy="131.60" r="2.3" fill="url(#gGray)"/>
<circle cx="336.40" cy="128.20" r="2.6" fill="url(#gRed)"/>
<line x1="347.40" y1="130.10" x2="348.30" y2="134.10" stroke="#5a5a5a" stroke-width="2.2"/>
<circle cx="348.30" cy="134.10" r="2.3" fill="url(#gGray)"/>
<circle cx="347.40" cy="130.10" r="2.8" fill="url(#gRed)"/>
<line x1="363.20" y1="128.20" x2="361.10" y2="131.80" stroke="#5a5a5a" stroke-width="2.2"/>
<circle cx="361.10" cy="131.80" r="2.3" fill="url(#gGray)"/>
<circle cx="363.20" cy="128.20" r="2.6" fill="url(#gRed)"/>
<circle cx="341.50" cy="139.40" r="2.4" fill="url(#gRed)"/>
<circle cx="356.70" cy="139.40" r="2.4" fill="url(#gRed)"/>
<circle cx="335.10" cy="142.80" r="4.6" fill="url(#gTeal)"/>
<circle cx="363.00" cy="142.40" r="4.6" fill="url(#gTeal)"/>
<circle cx="349.30" cy="146.80" r="2.7" fill="url(#gRed)"/>
<circle cx="341.50" cy="145.80" r="6.2" fill="url(#gTeal)"/>
<circle cx="356.70" cy="145.80" r="6.2" fill="url(#gTeal)"/>
<circle cx="333.70" cy="146.80" r="2.5" fill="url(#gRed)"/>
<circle cx="364.50" cy="146.80" r="2.5" fill="url(#gRed)"/>
<line x1="369.70" y1="137.40" x2="372.50" y2="147.20" stroke="#444" stroke-width="1"/>
<circle cx="370.30" cy="142.30" r="1.7" fill="url(#gGray)"/>
<circle cx="369.70" cy="137.40" r="2.8" fill="url(#gLav)"/>
<circle cx="372.50" cy="147.20" r="2.3" fill="url(#gLav)"/>
<path d="M256,58.6 L268.7,58.6 L281.1,50.9 L293.9,50.9 C297.5,50.9 299.5,38.1 303.8,38.1 C307.8,38.1 309.5,47 312,56 C313.6,62 315,68.6 318,68.6 L329.8,68.6 L342.1,90.1 L354.5,90.1 L366.9,81 L380.6,81 C384,81 385.6,65.8 388.9,65.8 C392.2,65.8 394,80 395.6,100 L403.7,153.3 L416.7,153.3" fill="none" stroke="#189BE0" stroke-width="1.35" stroke-linejoin="round"/>
<line x1="386" y1="30.4" x2="403" y2="30.4" stroke="#189BE0" stroke-width="1.35"/>
<text x="405.3" y="33.9" font-size="9.6" fill="#231815" stroke="#231815" stroke-width="0.22">I<tspan font-size="5.8" dy="2.9">C</tspan></text>
<text x="261.90" y="67.30" font-size="8.5" fill="#231815" text-anchor="middle"  stroke="#231815" stroke-width="0.22">I</text>
<text x="287.30" y="59.10" font-size="8.5" fill="#231815" text-anchor="middle"  stroke="#231815" stroke-width="0.22">II</text>
<text x="286.90" y="48.80" font-size="8.5" fill="#231815" text-anchor="middle"  stroke="#231815" stroke-width="0.22">0.49</text>
<text x="303.40" y="36.00" font-size="8.5" fill="#FF0A0A" text-anchor="middle"  stroke="#FF0A0A" stroke-width="0.22">0.72</text>
<text x="324.00" y="76.00" font-size="8.5" fill="#231815" text-anchor="middle"  stroke="#231815" stroke-width="0.22">III</text>
<text x="351.00" y="86.90" font-size="8.5" fill="#231815" text-anchor="middle"  stroke="#231815" stroke-width="0.22">-1.30</text>
<text x="348.70" y="98.30" font-size="8.5" fill="#231815" text-anchor="middle"  stroke="#231815" stroke-width="0.22">IV</text>
<text x="372.70" y="80.10" font-size="8.5" fill="#231815" text-anchor="middle"  stroke="#231815" stroke-width="0.22">0.53</text>
<text x="373.50" y="89.40" font-size="8.5" fill="#231815" text-anchor="middle"  stroke="#231815" stroke-width="0.22">V</text>
<text x="387.40" y="63.60" font-size="8.5" fill="#FF0A0A" text-anchor="middle"  stroke="#FF0A0A" stroke-width="0.22">0.58</text>
<text x="410.50" y="161.00" font-size="8.5" fill="#231815" text-anchor="middle"  stroke="#231815" stroke-width="0.22">VI</text>
<text x="292.50" y="122.10" font-size="8.0" fill="#231815" text-anchor="middle"  stroke="#231815" stroke-width="0.22">1.96 Å</text>
<text x="355.50" y="122.10" font-size="8.0" fill="#231815" text-anchor="middle"  stroke="#231815" stroke-width="0.22">1.81 Å</text>
<text x="291.80" y="162.80" font-size="6.6" fill="#111" text-anchor="middle"  stroke="#111" stroke-width="0.22">TS1</text>
<text x="354.80" y="162.80" font-size="6.6" fill="#111" text-anchor="middle"  stroke="#111" stroke-width="0.22">TS2</text>
<text x="435.60" y="11.90" font-size="16" fill="#231815" text-anchor="start"  stroke="#231815" stroke-width="0.22">(c)</text>
<path d="M469.2,17.4 H655.7 V167.3 H469.2" fill="none" stroke="#262626" stroke-width="1.25"/>
<line x1="469.2" y1="16.799999999999997" x2="469.2" y2="167.9" stroke="#7a7a7a" stroke-width="1.7"/>
<line x1="466.4" y1="25.50" x2="469.2" y2="25.50" stroke="#777" stroke-width="0.9"/>
<text x="465.40" y="28.50" font-size="8.6" fill="#231815" text-anchor="end"  stroke="#231815" stroke-width="0.22">2</text>
<line x1="466.4" y1="58.90" x2="469.2" y2="58.90" stroke="#777" stroke-width="0.9"/>
<text x="465.40" y="61.90" font-size="8.6" fill="#231815" text-anchor="end"  stroke="#231815" stroke-width="0.22">0</text>
<line x1="466.4" y1="92.30" x2="469.2" y2="92.30" stroke="#777" stroke-width="0.9"/>
<text x="465.40" y="95.30" font-size="8.6" fill="#231815" text-anchor="end"  stroke="#231815" stroke-width="0.22">-2</text>
<line x1="466.4" y1="125.70" x2="469.2" y2="125.70" stroke="#777" stroke-width="0.9"/>
<text x="465.40" y="128.70" font-size="8.6" fill="#231815" text-anchor="end"  stroke="#231815" stroke-width="0.22">-4</text>
<line x1="466.4" y1="159.10" x2="469.2" y2="159.10" stroke="#777" stroke-width="0.9"/>
<text x="465.40" y="162.10" font-size="8.6" fill="#231815" text-anchor="end"  stroke="#231815" stroke-width="0.22">-6</text>
<text transform="translate(453.8,92) rotate(-90)" font-size="10.4" fill="#231815" text-anchor="middle" stroke="#231815" stroke-width="0.22">Gibbs Free Energy (eV)</text>
<text x="562.50" y="180.90" font-size="11.2" fill="#231815" text-anchor="middle"  stroke="#231815" stroke-width="0.22">Reaction Coordinate</text>
<g clip-path="url(#cC1)"><rect x="472" y="147.2" width="98.39999999999998" height="12.100000000000023" fill="#F7E3A6"/>
<ellipse cx="468.40" cy="147.84" rx="3.7" ry="2.03" fill="url(#gSlab)"/>
<ellipse cx="475.60" cy="147.84" rx="3.7" ry="2.03" fill="url(#gSlab)"/>
<ellipse cx="482.80" cy="147.84" rx="3.7" ry="2.03" fill="url(#gSlab)"/>
<ellipse cx="490.00" cy="147.84" rx="3.7" ry="2.03" fill="url(#gSlab)"/>
<ellipse cx="497.20" cy="147.84" rx="3.7" ry="2.03" fill="url(#gSlab)"/>
<ellipse cx="504.40" cy="147.84" rx="3.7" ry="2.03" fill="url(#gSlab)"/>
<ellipse cx="511.60" cy="147.84" rx="3.7" ry="2.03" fill="url(#gSlab)"/>
<ellipse cx="518.80" cy="147.84" rx="3.7" ry="2.03" fill="url(#gSlab)"/>
<ellipse cx="526.00" cy="147.84" rx="3.7" ry="2.03" fill="url(#gSlab)"/>
<ellipse cx="533.20" cy="147.84" rx="3.7" ry="2.03" fill="url(#gSlab)"/>
<ellipse cx="540.40" cy="147.84" rx="3.7" ry="2.03" fill="url(#gSlab)"/>
<ellipse cx="547.60" cy="147.84" rx="3.7" ry="2.03" fill="url(#gSlab)"/>
<ellipse cx="554.80" cy="147.84" rx="3.7" ry="2.03" fill="url(#gSlab)"/>
<ellipse cx="562.00" cy="147.84" rx="3.7" ry="2.03" fill="url(#gSlab)"/>
<ellipse cx="569.20" cy="147.84" rx="3.7" ry="2.03" fill="url(#gSlab)"/>
<ellipse cx="468.70" cy="149.64" rx="2.1" ry="0.75" fill="#F2452C" opacity="0.9"/>
<ellipse cx="475.90" cy="149.64" rx="2.1" ry="0.75" fill="#F2452C" opacity="0.9"/>
<ellipse cx="483.10" cy="149.64" rx="2.1" ry="0.75" fill="#F2452C" opacity="0.9"/>
<ellipse cx="490.30" cy="149.64" rx="2.1" ry="0.75" fill="#F2452C" opacity="0.9"/>
<ellipse cx="497.50" cy="149.64" rx="2.1" ry="0.75" fill="#F2452C" opacity="0.9"/>
<ellipse cx="504.70" cy="149.64" rx="2.1" ry="0.75" fill="#F2452C" opacity="0.9"/>
<ellipse cx="511.90" cy="149.64" rx="2.1" ry="0.75" fill="#F2452C" opacity="0.9"/>
<ellipse cx="519.10" cy="149.64" rx="2.1" ry="0.75" fill="#F2452C" opacity="0.9"/>
<ellipse cx="526.30" cy="149.64" rx="2.1" ry="0.75" fill="#F2452C" opacity="0.9"/>
<ellipse cx="533.50" cy="149.64" rx="2.1" ry="0.75" fill="#F2452C" opacity="0.9"/>
<ellipse cx="540.70" cy="149.64" rx="2.1" ry="0.75" fill="#F2452C" opacity="0.9"/>
<ellipse cx="547.90" cy="149.64" rx="2.1" ry="0.75" fill="#F2452C" opacity="0.9"/>
<ellipse cx="555.10" cy="149.64" rx="2.1" ry="0.75" fill="#F2452C" opacity="0.9"/>
<ellipse cx="562.30" cy="149.64" rx="2.1" ry="0.75" fill="#F2452C" opacity="0.9"/>
<ellipse cx="569.50" cy="149.64" rx="2.1" ry="0.75" fill="#F2452C" opacity="0.9"/>
<ellipse cx="472.00" cy="151.11" rx="3.7" ry="2.03" fill="url(#gSlab)"/>
<ellipse cx="479.20" cy="151.11" rx="3.7" ry="2.03" fill="url(#gSlab)"/>
<ellipse cx="486.40" cy="151.11" rx="3.7" ry="2.03" fill="url(#gSlab)"/>
<ellipse cx="493.60" cy="151.11" rx="3.7" ry="2.03" fill="url(#gSlab)"/>
<ellipse cx="500.80" cy="151.11" rx="3.7" ry="2.03" fill="url(#gSlab)"/>
<ellipse cx="508.00" cy="151.11" rx="3.7" ry="2.03" fill="url(#gSlab)"/>
<ellipse cx="515.20" cy="151.11" rx="3.7" ry="2.03" fill="url(#gSlab)"/>
<ellipse cx="522.40" cy="151.11" rx="3.7" ry="2.03" fill="url(#gSlab)"/>
<ellipse cx="529.60" cy="151.11" rx="3.7" ry="2.03" fill="url(#gSlab)"/>
<ellipse cx="536.80" cy="151.11" rx="3.7" ry="2.03" fill="url(#gSlab)"/>
<ellipse cx="544.00" cy="151.11" rx="3.7" ry="2.03" fill="url(#gSlab)"/>
<ellipse cx="551.20" cy="151.11" rx="3.7" ry="2.03" fill="url(#gSlab)"/>
<ellipse cx="558.40" cy="151.11" rx="3.7" ry="2.03" fill="url(#gSlab)"/>
<ellipse cx="565.60" cy="151.11" rx="3.7" ry="2.03" fill="url(#gSlab)"/>
<ellipse cx="572.80" cy="151.11" rx="3.7" ry="2.03" fill="url(#gSlab)"/>
<ellipse cx="472.30" cy="152.91" rx="2.1" ry="0.75" fill="#F2452C" opacity="0.9"/>
<ellipse cx="479.50" cy="152.91" rx="2.1" ry="0.75" fill="#F2452C" opacity="0.9"/>
<ellipse cx="486.70" cy="152.91" rx="2.1" ry="0.75" fill="#F2452C" opacity="0.9"/>
<ellipse cx="493.90" cy="152.91" rx="2.1" ry="0.75" fill="#F2452C" opacity="0.9"/>
<ellipse cx="501.10" cy="152.91" rx="2.1" ry="0.75" fill="#F2452C" opacity="0.9"/>
<ellipse cx="508.30" cy="152.91" rx="2.1" ry="0.75" fill="#F2452C" opacity="0.9"/>
<ellipse cx="515.50" cy="152.91" rx="2.1" ry="0.75" fill="#F2452C" opacity="0.9"/>
<ellipse cx="522.70" cy="152.91" rx="2.1" ry="0.75" fill="#F2452C" opacity="0.9"/>
<ellipse cx="529.90" cy="152.91" rx="2.1" ry="0.75" fill="#F2452C" opacity="0.9"/>
<ellipse cx="537.10" cy="152.91" rx="2.1" ry="0.75" fill="#F2452C" opacity="0.9"/>
<ellipse cx="544.30" cy="152.91" rx="2.1" ry="0.75" fill="#F2452C" opacity="0.9"/>
<ellipse cx="551.50" cy="152.91" rx="2.1" ry="0.75" fill="#F2452C" opacity="0.9"/>
<ellipse cx="558.70" cy="152.91" rx="2.1" ry="0.75" fill="#F2452C" opacity="0.9"/>
<ellipse cx="565.90" cy="152.91" rx="2.1" ry="0.75" fill="#F2452C" opacity="0.9"/>
<ellipse cx="573.10" cy="152.91" rx="2.1" ry="0.75" fill="#F2452C" opacity="0.9"/>
<ellipse cx="468.40" cy="154.39" rx="3.7" ry="2.03" fill="url(#gSlab)"/>
<ellipse cx="475.60" cy="154.39" rx="3.7" ry="2.03" fill="url(#gSlab)"/>
<ellipse cx="482.80" cy="154.39" rx="3.7" ry="2.03" fill="url(#gSlab)"/>
<ellipse cx="490.00" cy="154.39" rx="3.7" ry="2.03" fill="url(#gSlab)"/>
<ellipse cx="497.20" cy="154.39" rx="3.7" ry="2.03" fill="url(#gSlab)"/>
<ellipse cx="504.40" cy="154.39" rx="3.7" ry="2.03" fill="url(#gSlab)"/>
<ellipse cx="511.60" cy="154.39" rx="3.7" ry="2.03" fill="url(#gSlab)"/>
<ellipse cx="518.80" cy="154.39" rx="3.7" ry="2.03" fill="url(#gSlab)"/>
<ellipse cx="526.00" cy="154.39" rx="3.7" ry="2.03" fill="url(#gSlab)"/>
<ellipse cx="533.20" cy="154.39" rx="3.7" ry="2.03" fill="url(#gSlab)"/>
<ellipse cx="540.40" cy="154.39" rx="3.7" ry="2.03" fill="url(#gSlab)"/>
<ellipse cx="547.60" cy="154.39" rx="3.7" ry="2.03" fill="url(#gSlab)"/>
<ellipse cx="554.80" cy="154.39" rx="3.7" ry="2.03" fill="url(#gSlab)"/>
<ellipse cx="562.00" cy="154.39" rx="3.7" ry="2.03" fill="url(#gSlab)"/>
<ellipse cx="569.20" cy="154.39" rx="3.7" ry="2.03" fill="url(#gSlab)"/>
<ellipse cx="468.70" cy="156.19" rx="2.1" ry="0.75" fill="#F2452C" opacity="0.9"/>
<ellipse cx="475.90" cy="156.19" rx="2.1" ry="0.75" fill="#F2452C" opacity="0.9"/>
<ellipse cx="483.10" cy="156.19" rx="2.1" ry="0.75" fill="#F2452C" opacity="0.9"/>
<ellipse cx="490.30" cy="156.19" rx="2.1" ry="0.75" fill="#F2452C" opacity="0.9"/>
<ellipse cx="497.50" cy="156.19" rx="2.1" ry="0.75" fill="#F2452C" opacity="0.9"/>
<ellipse cx="504.70" cy="156.19" rx="2.1" ry="0.75" fill="#F2452C" opacity="0.9"/>
<ellipse cx="511.90" cy="156.19" rx="2.1" ry="0.75" fill="#F2452C" opacity="0.9"/>
<ellipse cx="519.10" cy="156.19" rx="2.1" ry="0.75" fill="#F2452C" opacity="0.9"/>
<ellipse cx="526.30" cy="156.19" rx="2.1" ry="0.75" fill="#F2452C" opacity="0.9"/>
<ellipse cx="533.50" cy="156.19" rx="2.1" ry="0.75" fill="#F2452C" opacity="0.9"/>
<ellipse cx="540.70" cy="156.19" rx="2.1" ry="0.75" fill="#F2452C" opacity="0.9"/>
<ellipse cx="547.90" cy="156.19" rx="2.1" ry="0.75" fill="#F2452C" opacity="0.9"/>
<ellipse cx="555.10" cy="156.19" rx="2.1" ry="0.75" fill="#F2452C" opacity="0.9"/>
<ellipse cx="562.30" cy="156.19" rx="2.1" ry="0.75" fill="#F2452C" opacity="0.9"/>
<ellipse cx="569.50" cy="156.19" rx="2.1" ry="0.75" fill="#F2452C" opacity="0.9"/>
<ellipse cx="472.00" cy="157.66" rx="3.7" ry="2.03" fill="url(#gSlab)"/>
<ellipse cx="479.20" cy="157.66" rx="3.7" ry="2.03" fill="url(#gSlab)"/>
<ellipse cx="486.40" cy="157.66" rx="3.7" ry="2.03" fill="url(#gSlab)"/>
<ellipse cx="493.60" cy="157.66" rx="3.7" ry="2.03" fill="url(#gSlab)"/>
<ellipse cx="500.80" cy="157.66" rx="3.7" ry="2.03" fill="url(#gSlab)"/>
<ellipse cx="508.00" cy="157.66" rx="3.7" ry="2.03" fill="url(#gSlab)"/>
<ellipse cx="515.20" cy="157.66" rx="3.7" ry="2.03" fill="url(#gSlab)"/>
<ellipse cx="522.40" cy="157.66" rx="3.7" ry="2.03" fill="url(#gSlab)"/>
<ellipse cx="529.60" cy="157.66" rx="3.7" ry="2.03" fill="url(#gSlab)"/>
<ellipse cx="536.80" cy="157.66" rx="3.7" ry="2.03" fill="url(#gSlab)"/>
<ellipse cx="544.00" cy="157.66" rx="3.7" ry="2.03" fill="url(#gSlab)"/>
<ellipse cx="551.20" cy="157.66" rx="3.7" ry="2.03" fill="url(#gSlab)"/>
<ellipse cx="558.40" cy="157.66" rx="3.7" ry="2.03" fill="url(#gSlab)"/>
<ellipse cx="565.60" cy="157.66" rx="3.7" ry="2.03" fill="url(#gSlab)"/>
<ellipse cx="572.80" cy="157.66" rx="3.7" ry="2.03" fill="url(#gSlab)"/>
<ellipse cx="472.30" cy="159.46" rx="2.1" ry="0.75" fill="#F2452C" opacity="0.9"/>
<ellipse cx="479.50" cy="159.46" rx="2.1" ry="0.75" fill="#F2452C" opacity="0.9"/>
<ellipse cx="486.70" cy="159.46" rx="2.1" ry="0.75" fill="#F2452C" opacity="0.9"/>
<ellipse cx="493.90" cy="159.46" rx="2.1" ry="0.75" fill="#F2452C" opacity="0.9"/>
<ellipse cx="501.10" cy="159.46" rx="2.1" ry="0.75" fill="#F2452C" opacity="0.9"/>
<ellipse cx="508.30" cy="159.46" rx="2.1" ry="0.75" fill="#F2452C" opacity="0.9"/>
<ellipse cx="515.50" cy="159.46" rx="2.1" ry="0.75" fill="#F2452C" opacity="0.9"/>
<ellipse cx="522.70" cy="159.46" rx="2.1" ry="0.75" fill="#F2452C" opacity="0.9"/>
<ellipse cx="529.90" cy="159.46" rx="2.1" ry="0.75" fill="#F2452C" opacity="0.9"/>
<ellipse cx="537.10" cy="159.46" rx="2.1" ry="0.75" fill="#F2452C" opacity="0.9"/>
<ellipse cx="544.30" cy="159.46" rx="2.1" ry="0.75" fill="#F2452C" opacity="0.9"/>
<ellipse cx="551.50" cy="159.46" rx="2.1" ry="0.75" fill="#F2452C" opacity="0.9"/>
<ellipse cx="558.70" cy="159.46" rx="2.1" ry="0.75" fill="#F2452C" opacity="0.9"/>
<ellipse cx="565.90" cy="159.46" rx="2.1" ry="0.75" fill="#F2452C" opacity="0.9"/>
<ellipse cx="573.10" cy="159.46" rx="2.1" ry="0.75" fill="#F2452C" opacity="0.9"/></g>
<ellipse cx="497.50" cy="142.50" rx="14" ry="8" fill="#148F91"/>
<circle cx="488.00" cy="136.40" r="5.6" fill="url(#gTeal)"/>
<circle cx="506.50" cy="136.40" r="5.6" fill="url(#gTeal)"/>
<circle cx="497.80" cy="138.50" r="6.4" fill="url(#gTeal)"/>
<circle cx="506.00" cy="140.00" r="2.5" fill="url(#gRed)"/>
<line x1="482.30" y1="128.70" x2="485.40" y2="132.50" stroke="#5a5a5a" stroke-width="2.4"/>
<circle cx="485.40" cy="132.50" r="2.5" fill="url(#gGray)"/>
<circle cx="482.30" cy="128.70" r="3.0" fill="url(#gRed)"/>
<line x1="511.70" y1="128.70" x2="508.80" y2="132.50" stroke="#5a5a5a" stroke-width="2.4"/>
<circle cx="508.80" cy="132.50" r="2.5" fill="url(#gGray)"/>
<circle cx="511.70" cy="128.70" r="3.0" fill="url(#gRed)"/>
<circle cx="481.80" cy="144.20" r="4.8" fill="url(#gTeal)"/>
<circle cx="513.20" cy="144.20" r="4.8" fill="url(#gTeal)"/>
<circle cx="497.30" cy="148.80" r="2.9" fill="url(#gRed)"/>
<circle cx="489.00" cy="147.30" r="6.8" fill="url(#gTeal)"/>
<circle cx="506.00" cy="147.30" r="6.8" fill="url(#gTeal)"/>
<circle cx="480.80" cy="148.30" r="2.7" fill="url(#gRed)"/>
<circle cx="514.30" cy="148.30" r="2.7" fill="url(#gRed)"/>
<line x1="493.10" y1="131.80" x2="489.00" y2="139.00" stroke="#222" stroke-width="0.7"/>
<circle cx="493.10" cy="131.80" r="3.5" fill="url(#gLav)"/>
<circle cx="495.70" cy="135.40" r="2.3" fill="url(#gGray)"/>
<circle cx="489.00" cy="139.00" r="2.9" fill="url(#gLav)"/>
<ellipse cx="546.30" cy="142.00" rx="14" ry="8" fill="#148F91"/>
<circle cx="536.80" cy="135.90" r="5.6" fill="url(#gTeal)"/>
<circle cx="555.30" cy="135.90" r="5.6" fill="url(#gTeal)"/>
<circle cx="546.60" cy="138.00" r="6.4" fill="url(#gTeal)"/>
<circle cx="554.80" cy="139.50" r="2.5" fill="url(#gRed)"/>
<line x1="531.10" y1="124.90" x2="534.20" y2="128.70" stroke="#5a5a5a" stroke-width="2.4"/>
<circle cx="534.20" cy="128.70" r="2.5" fill="url(#gGray)"/>
<circle cx="531.10" cy="124.90" r="3.0" fill="url(#gRed)"/>
<line x1="560.50" y1="124.90" x2="557.60" y2="128.70" stroke="#5a5a5a" stroke-width="2.4"/>
<circle cx="557.60" cy="128.70" r="2.5" fill="url(#gGray)"/>
<circle cx="560.50" cy="124.90" r="3.0" fill="url(#gRed)"/>
<circle cx="530.60" cy="143.70" r="4.8" fill="url(#gTeal)"/>
<circle cx="562.00" cy="143.70" r="4.8" fill="url(#gTeal)"/>
<circle cx="546.10" cy="148.30" r="2.9" fill="url(#gRed)"/>
<circle cx="537.80" cy="146.80" r="6.8" fill="url(#gTeal)"/>
<circle cx="554.80" cy="146.80" r="6.8" fill="url(#gTeal)"/>
<circle cx="529.60" cy="147.80" r="2.7" fill="url(#gRed)"/>
<circle cx="563.10" cy="147.80" r="2.7" fill="url(#gRed)"/>
<line x1="545.60" y1="130.60" x2="537.10" y2="139.80" stroke="#222" stroke-width="0.7"/>
<circle cx="545.60" cy="130.60" r="3.5" fill="url(#gLav)"/>
<circle cx="548.20" cy="134.20" r="2.3" fill="url(#gGray)"/>
<circle cx="537.10" cy="139.80" r="2.9" fill="url(#gLav)"/>
<g clip-path="url(#cTS3)"><rect x="570.1" y="124.1" width="43.799999999999955" height="34.900000000000006" fill="#F2281A"/>
<circle cx="571.10" cy="126.10" r="3.45" fill="url(#gTan)"/>
<circle cx="578.50" cy="126.10" r="3.45" fill="url(#gTan)"/>
<circle cx="585.90" cy="126.10" r="3.45" fill="url(#gTan)"/>
<circle cx="593.30" cy="126.10" r="3.45" fill="url(#gTan)"/>
<circle cx="600.70" cy="126.10" r="3.45" fill="url(#gTan)"/>
<circle cx="608.10" cy="126.10" r="3.45" fill="url(#gTan)"/>
<circle cx="615.50" cy="126.10" r="3.45" fill="url(#gTan)"/>
<circle cx="574.80" cy="132.50" r="3.45" fill="url(#gTan)"/>
<circle cx="582.20" cy="132.50" r="3.45" fill="url(#gTan)"/>
<circle cx="589.60" cy="132.50" r="3.45" fill="url(#gTan)"/>
<circle cx="597.00" cy="132.50" r="3.45" fill="url(#gTan)"/>
<circle cx="604.40" cy="132.50" r="3.45" fill="url(#gTan)"/>
<circle cx="611.80" cy="132.50" r="3.45" fill="url(#gTan)"/>
<circle cx="571.10" cy="138.90" r="3.45" fill="url(#gTan)"/>
<circle cx="578.50" cy="138.90" r="3.45" fill="url(#gTan)"/>
<circle cx="585.90" cy="138.90" r="3.45" fill="url(#gTan)"/>
<circle cx="593.30" cy="138.90" r="3.45" fill="url(#gTan)"/>
<circle cx="600.70" cy="138.90" r="3.45" fill="url(#gTan)"/>
<circle cx="608.10" cy="138.90" r="3.45" fill="url(#gTan)"/>
<circle cx="615.50" cy="138.90" r="3.45" fill="url(#gTan)"/>
<circle cx="574.80" cy="145.30" r="3.45" fill="url(#gTan)"/>
<circle cx="582.20" cy="145.30" r="3.45" fill="url(#gTan)"/>
<circle cx="589.60" cy="145.30" r="3.45" fill="url(#gTan)"/>
<circle cx="597.00" cy="145.30" r="3.45" fill="url(#gTan)"/>
<circle cx="604.40" cy="145.30" r="3.45" fill="url(#gTan)"/>
<circle cx="611.80" cy="145.30" r="3.45" fill="url(#gTan)"/>
<circle cx="571.10" cy="151.70" r="3.45" fill="url(#gTan)"/>
<circle cx="578.50" cy="151.70" r="3.45" fill="url(#gTan)"/>
<circle cx="585.90" cy="151.70" r="3.45" fill="url(#gTan)"/>
<circle cx="593.30" cy="151.70" r="3.45" fill="url(#gTan)"/>
<circle cx="600.70" cy="151.70" r="3.45" fill="url(#gTan)"/>
<circle cx="608.10" cy="151.70" r="3.45" fill="url(#gTan)"/>
<circle cx="615.50" cy="151.70" r="3.45" fill="url(#gTan)"/>
<circle cx="574.80" cy="158.10" r="3.45" fill="url(#gTan)"/>
<circle cx="582.20" cy="158.10" r="3.45" fill="url(#gTan)"/>
<circle cx="589.60" cy="158.10" r="3.45" fill="url(#gTan)"/>
<circle cx="597.00" cy="158.10" r="3.45" fill="url(#gTan)"/>
<circle cx="604.40" cy="158.10" r="3.45" fill="url(#gTan)"/>
<circle cx="611.80" cy="158.10" r="3.45" fill="url(#gTan)"/>
<circle cx="582.40" cy="133.10" r="2.5" fill="url(#gGray)"/>
<circle cx="602.20" cy="133.10" r="2.5" fill="url(#gGray)"/>
<circle cx="582.30" cy="140.00" r="2.3" fill="url(#gRed)"/>
<circle cx="602.30" cy="140.00" r="2.3" fill="url(#gRed)"/>
<circle cx="592.80" cy="153.00" r="2.3" fill="url(#gRed)"/>
<circle cx="577.80" cy="150.50" r="2.3" fill="url(#gRed)"/>
<circle cx="607.30" cy="150.50" r="2.3" fill="url(#gRed)"/>
<circle cx="586.80" cy="156.50" r="2.3" fill="url(#gRed)"/>
<circle cx="598.80" cy="156.50" r="2.3" fill="url(#gRed)"/>
<circle cx="587.30" cy="146.00" r="2.3" fill="url(#gRed)"/>
<circle cx="597.80" cy="146.00" r="2.3" fill="url(#gRed)"/>
<circle cx="586.80" cy="136.50" r="4.7" fill="url(#gTeal)"/>
<circle cx="597.50" cy="136.50" r="4.7" fill="url(#gTeal)"/>
<circle cx="582.10" cy="145.20" r="4.6" fill="url(#gTeal)"/>
<circle cx="602.20" cy="145.20" r="4.6" fill="url(#gTeal)"/>
<circle cx="586.80" cy="150.50" r="4.7" fill="url(#gTeal)"/>
<circle cx="598.20" cy="150.50" r="4.7" fill="url(#gTeal)"/>
<circle cx="592.80" cy="144.50" r="4.6" fill="url(#gTeal)"/>
<circle cx="592.80" cy="137.50" r="2.7" fill="url(#gLav)"/>
<circle cx="592.80" cy="141.90" r="2.7" fill="url(#gLav)"/>
<line x1="592.80" y1="136.00" x2="592.80" y2="143.50" stroke="#666" stroke-width="0.7" stroke-dasharray="0.8,0.7"/></g>
<path d="M479.3,58.6 L490.2,58.6 L500.3,48.9 L511.3,48.9 C514.5,48.9 515.5,36.9 518.4,36.9 C521.3,36.9 522.5,46 524,56 L527.6,82 C528.6,89 529.3,94.4 531.5,94.4 L541.2,94.4 L552.7,87.7 L562.6,87.7 C566,87.7 568,75.2 571.7,75.2 C575.5,75.2 578,96.6 583,96.6 L593,96.6 L603.8,83 L614.8,83 C617.5,83 618.5,72.1 621,72.1 C624,72.1 626,85 627.5,105 L634.3,154 L645.6,154" fill="none" stroke="#EC7049" stroke-width="1.35" stroke-linejoin="round"/>
<line x1="611" y1="30.5" x2="628" y2="30.5" stroke="#EC7049" stroke-width="1.35"/>
<text x="630" y="34" font-size="9.6" fill="#231815" stroke="#231815" stroke-width="0.22">O<tspan font-size="5.8" dy="2.9">A</tspan></text>
<text x="485.10" y="66.90" font-size="8.5" fill="#231815" text-anchor="middle"  stroke="#231815" stroke-width="0.22">I</text>
<text x="504.70" y="57.60" font-size="8.5" fill="#231815" text-anchor="middle"  stroke="#231815" stroke-width="0.22">II</text>
<text x="503.40" y="47.70" font-size="8.5" fill="#231815" text-anchor="middle"  stroke="#231815" stroke-width="0.22">0.59</text>
<text x="517.90" y="35.40" font-size="8.5" fill="#FF0A0A" text-anchor="middle"  stroke="#FF0A0A" stroke-width="0.22">0.49</text>
<text x="536.20" y="103.50" font-size="8.5" fill="#231815" text-anchor="middle"  stroke="#231815" stroke-width="0.22">III</text>
<text x="554.80" y="86.00" font-size="8.5" fill="#231815" text-anchor="middle"  stroke="#231815" stroke-width="0.22">0.43</text>
<text x="556.80" y="96.30" font-size="8.5" fill="#231815" text-anchor="middle"  stroke="#231815" stroke-width="0.22">IV</text>
<text x="571.30" y="73.60" font-size="8.5" fill="#FF0A0A" text-anchor="middle"  stroke="#FF0A0A" stroke-width="0.22">0.74</text>
<text x="577" y="105.6" font-size="8.5" fill="#231815" stroke="#231815" stroke-width="0.22">O<tspan font-size="5.4" dy="2.4">2</tspan><tspan dy="-2.4"> dis</tspan></text>
<text x="608.00" y="81.90" font-size="8.5" fill="#231815" text-anchor="middle"  stroke="#231815" stroke-width="0.22">0.79</text>
<text x="608.60" y="92.20" font-size="8.5" fill="#231815" text-anchor="middle"  stroke="#231815" stroke-width="0.22">V</text>
<text x="621.00" y="70.50" font-size="8.5" fill="#FF0A0A" text-anchor="middle"  stroke="#FF0A0A" stroke-width="0.22">0.26</text>
<text x="640.50" y="162.50" font-size="8.5" fill="#231815" text-anchor="middle"  stroke="#231815" stroke-width="0.22">VI</text>
<text x="497.00" y="122.90" font-size="8.0" fill="#231815" text-anchor="middle"  stroke="#231815" stroke-width="0.22">1.85 Å</text>
<text x="547.00" y="122.90" font-size="8.0" fill="#231815" text-anchor="middle"  stroke="#231815" stroke-width="0.22">2.95 Å</text>
<text x="592.10" y="122.90" font-size="8.0" fill="#231815" text-anchor="middle"  stroke="#231815" stroke-width="0.22">1.91 Å</text>
<text x="498.50" y="164.80" font-size="6.6" fill="#111" text-anchor="middle"  stroke="#111" stroke-width="0.22">TS1</text>
<text x="546.50" y="164.80" font-size="6.6" fill="#111" text-anchor="middle"  stroke="#111" stroke-width="0.22">TS2</text>
<text x="592.40" y="164.80" font-size="6.6" fill="#111" text-anchor="middle"  stroke="#111" stroke-width="0.22">TS3</text>
<text x="214.20" y="199.60" font-size="16" fill="#231815" text-anchor="start"  stroke="#231815" stroke-width="0.22">(d)</text>
<defs><clipPath id="cD"><rect x="247.5" y="212.2" width="180.0" height="148.10000000000002"/></clipPath></defs>
<g clip-path="url(#cD)"><polyline points="259.30,279.00 278.20,284.10 301.35,290.20 330.30,298.70 367.40,308.70 417.00,323.20" fill="none" stroke="#1E1E1E" stroke-width="1.2" stroke-dasharray="4,3.7"/>
<polyline points="259.30,250.80 278.20,253.50 301.35,256.20 330.30,259.30 367.40,264.70 417.00,271.90" fill="none" stroke="#D7145A" stroke-width="1.35" stroke-dasharray="4.5,3.6"/>
<polyline points="259.30,235.30 278.20,237.10 301.35,239.40 330.30,243.00 367.40,247.20 417.00,256.80" fill="none" stroke="#7A72C6" stroke-width="1.0" stroke-dasharray="3.8,4.4"/>
<polyline points="259.30,234.60 278.20,234.90 301.35,235.50 330.30,236.40 367.40,237.60 417.00,239.40" fill="none" stroke="#F07832" stroke-width="1.45" />
<polyline points="259.30,225.30 278.20,235.00 301.35,249.50 330.30,264.30 367.40,281.50 417.00,304.50" fill="none" stroke="#BE9628" stroke-width="1.25" />
<polyline points="259.30,296.20 278.20,312.80 301.35,333.20 330.30,358.80" fill="none" stroke="#1EAF50" stroke-width="1.3" />
<polyline points="259.30,228.90 278.20,230.30 301.35,231.90 330.30,234.60 367.40,237.30 417.00,240.90" fill="none" stroke="#1A8FE0" stroke-width="1.3" stroke-dasharray="4.4,3.8"/>
<circle cx="259.30" cy="279.00" r="3.35" fill="url(#gK)"/>
<circle cx="278.20" cy="284.10" r="3.35" fill="url(#gK)"/>
<circle cx="301.35" cy="290.20" r="3.35" fill="url(#gK)"/>
<circle cx="330.30" cy="298.70" r="3.35" fill="url(#gK)"/>
<circle cx="367.40" cy="308.70" r="3.35" fill="url(#gK)"/>
<circle cx="417.00" cy="323.20" r="3.35" fill="url(#gK)"/>
<circle cx="259.30" cy="250.80" r="3.35" fill="url(#gM)"/>
<circle cx="278.20" cy="253.50" r="3.35" fill="url(#gM)"/>
<circle cx="301.35" cy="256.20" r="3.35" fill="url(#gM)"/>
<circle cx="330.30" cy="259.30" r="3.35" fill="url(#gM)"/>
<circle cx="367.40" cy="264.70" r="3.35" fill="url(#gM)"/>
<circle cx="417.00" cy="271.90" r="3.35" fill="url(#gM)"/>
<circle cx="259.30" cy="234.60" r="3.35" fill="url(#gO)"/>
<circle cx="278.20" cy="234.90" r="3.35" fill="url(#gO)"/>
<circle cx="301.35" cy="235.50" r="3.35" fill="url(#gO)"/>
<circle cx="330.30" cy="236.40" r="3.35" fill="url(#gO)"/>
<circle cx="367.40" cy="237.60" r="3.35" fill="url(#gO)"/>
<circle cx="417.00" cy="239.40" r="3.35" fill="url(#gO)"/>
<circle cx="259.30" cy="225.30" r="3.35" fill="url(#gY)"/>
<circle cx="278.20" cy="235.00" r="3.35" fill="url(#gY)"/>
<circle cx="301.35" cy="249.50" r="3.35" fill="url(#gY)"/>
<circle cx="330.30" cy="264.30" r="3.35" fill="url(#gY)"/>
<circle cx="367.40" cy="281.50" r="3.35" fill="url(#gY)"/>
<circle cx="417.00" cy="304.50" r="3.35" fill="url(#gY)"/>
<circle cx="259.30" cy="296.20" r="3.35" fill="url(#gG)"/>
<circle cx="278.20" cy="312.80" r="3.35" fill="url(#gG)"/>
<circle cx="301.35" cy="333.20" r="3.35" fill="url(#gG)"/>
<circle cx="330.30" cy="358.80" r="3.35" fill="url(#gG)"/>
<circle cx="259.30" cy="235.30" r="3.35" fill="url(#gP)"/>
<circle cx="278.20" cy="237.10" r="3.35" fill="url(#gP)"/>
<circle cx="301.35" cy="239.40" r="3.35" fill="url(#gP)"/>
<circle cx="330.30" cy="243.00" r="3.35" fill="url(#gP)"/>
<circle cx="367.40" cy="247.20" r="3.35" fill="url(#gP)"/>
<circle cx="417.00" cy="256.80" r="3.35" fill="url(#gP)"/>
<circle cx="259.30" cy="228.90" r="3.35" fill="url(#gB)"/>
<circle cx="278.20" cy="230.30" r="3.35" fill="url(#gB)"/>
<circle cx="301.35" cy="231.90" r="3.35" fill="url(#gB)"/>
<circle cx="330.30" cy="234.60" r="3.35" fill="url(#gB)"/>
<circle cx="367.40" cy="237.30" r="3.35" fill="url(#gB)"/>
<circle cx="417.00" cy="240.90" r="3.35" fill="url(#gB)"/></g>
<rect x="247.5" y="212.2" width="180.0" height="148.10000000000002" fill="none" stroke="#1a1a1a" stroke-width="1.25"/>
<line x1="244.7" y1="226.6" x2="247.5" y2="226.6" stroke="#1a1a1a" stroke-width="0.9"/>
<text x="243.40" y="229.40" font-size="8.0" fill="#231815" text-anchor="end"  stroke="#231815" stroke-width="0.22">0</text>
<line x1="244.7" y1="256.2" x2="247.5" y2="256.2" stroke="#1a1a1a" stroke-width="0.9"/>
<text x="243.40" y="259.00" font-size="8.0" fill="#231815" text-anchor="end"  stroke="#231815" stroke-width="0.22">-4</text>
<line x1="244.7" y1="285.7" x2="247.5" y2="285.7" stroke="#1a1a1a" stroke-width="0.9"/>
<text x="243.40" y="288.50" font-size="8.0" fill="#231815" text-anchor="end"  stroke="#231815" stroke-width="0.22">-8</text>
<line x1="244.7" y1="315.3" x2="247.5" y2="315.3" stroke="#1a1a1a" stroke-width="0.9"/>
<text x="243.40" y="318.10" font-size="8.0" fill="#231815" text-anchor="end"  stroke="#231815" stroke-width="0.22">-12</text>
<line x1="244.7" y1="344.9" x2="247.5" y2="344.9" stroke="#1a1a1a" stroke-width="0.9"/>
<text x="243.40" y="347.70" font-size="8.0" fill="#231815" text-anchor="end"  stroke="#231815" stroke-width="0.22">-16</text>
<line x1="257.40" y1="360.3" x2="257.40" y2="362.7" stroke="#1a1a1a" stroke-width="0.9"/>
<text x="257.40" y="371.30" font-size="8.0" fill="#231815" text-anchor="middle"  stroke="#231815" stroke-width="0.22">1.8</text>
<line x1="288.64" y1="360.3" x2="288.64" y2="362.7" stroke="#1a1a1a" stroke-width="0.9"/>
<text x="288.64" y="371.30" font-size="8.0" fill="#231815" text-anchor="middle"  stroke="#231815" stroke-width="0.22">2.1</text>
<line x1="319.88" y1="360.3" x2="319.88" y2="362.7" stroke="#1a1a1a" stroke-width="0.9"/>
<text x="319.88" y="371.30" font-size="8.0" fill="#231815" text-anchor="middle"  stroke="#231815" stroke-width="0.22">2.4</text>
<line x1="351.12" y1="360.3" x2="351.12" y2="362.7" stroke="#1a1a1a" stroke-width="0.9"/>
<text x="351.12" y="371.30" font-size="8.0" fill="#231815" text-anchor="middle"  stroke="#231815" stroke-width="0.22">2.7</text>
<line x1="382.36" y1="360.3" x2="382.36" y2="362.7" stroke="#1a1a1a" stroke-width="0.9"/>
<text x="382.36" y="371.30" font-size="8.0" fill="#231815" text-anchor="middle"  stroke="#231815" stroke-width="0.22">3.0</text>
<line x1="413.60" y1="360.3" x2="413.60" y2="362.7" stroke="#1a1a1a" stroke-width="0.9"/>
<text x="413.60" y="371.30" font-size="8.0" fill="#231815" text-anchor="middle"  stroke="#231815" stroke-width="0.22">3.3</text>
<line x1="259.29" y1="209.6" x2="259.29" y2="212.2" stroke="#1a1a1a" stroke-width="0.9"/>
<text x="259.29" y="206.00" font-size="8.0" fill="#231815" text-anchor="middle"  stroke="#231815" stroke-width="0.22">550</text>
<line x1="278.23" y1="209.6" x2="278.23" y2="212.2" stroke="#1a1a1a" stroke-width="0.9"/>
<text x="278.23" y="206.00" font-size="8.0" fill="#231815" text-anchor="middle"  stroke="#231815" stroke-width="0.22">500</text>
<line x1="301.37" y1="209.6" x2="301.37" y2="212.2" stroke="#1a1a1a" stroke-width="0.9"/>
<text x="301.37" y="206.00" font-size="8.0" fill="#231815" text-anchor="middle"  stroke="#231815" stroke-width="0.22">450</text>
<line x1="330.29" y1="209.6" x2="330.29" y2="212.2" stroke="#1a1a1a" stroke-width="0.9"/>
<text x="330.29" y="206.00" font-size="8.0" fill="#231815" text-anchor="middle"  stroke="#231815" stroke-width="0.22">400</text>
<line x1="367.48" y1="209.6" x2="367.48" y2="212.2" stroke="#1a1a1a" stroke-width="0.9"/>
<text x="367.48" y="206.00" font-size="8.0" fill="#231815" text-anchor="middle"  stroke="#231815" stroke-width="0.22">350</text>
<line x1="417.07" y1="209.6" x2="417.07" y2="212.2" stroke="#1a1a1a" stroke-width="0.9"/>
<text x="417.07" y="206.00" font-size="8.0" fill="#231815" text-anchor="middle"  stroke="#231815" stroke-width="0.22">300</text>
<text x="337.50" y="194.00" font-size="9.6" fill="#231815" text-anchor="middle"  stroke="#231815" stroke-width="0.22">Temperature (K)</text>
<text x="337.7" y="385.9" font-size="9.6" fill="#231815" text-anchor="middle" stroke="#231815" stroke-width="0.22">1000/<tspan font-style="italic">T</tspan> (K<tspan font-size="5.8" dy="-3.6">-1</tspan><tspan dy="3.6">)</tspan></text>
<text transform="translate(228.4,286.6) rotate(-90)" font-size="11" fill="#231815" text-anchor="middle" stroke="#231815" stroke-width="0.22">log<tspan font-size="6.4" dy="2.4">10</tspan><tspan dy="-2.4">(</tspan><tspan font-style="italic">r</tspan><tspan font-size="5.6" dy="2.6">site</tspan><tspan dy="-2.6">)</tspan></text>
<text transform="translate(319.2,227.6) rotate(5)" font-size="8.8" fill="#1A8FE0" text-anchor="middle" dy="3.1" stroke="#1A8FE0" stroke-width="0.22">0.22 eV</text>
<text transform="translate(326.8,247.0) rotate(8)" font-size="8.8" fill="#6459B0" text-anchor="middle" dy="3.1" stroke="#6459B0" stroke-width="0.22">0.32 eV</text>
<text transform="translate(379.6,232.6) rotate(2)" font-size="8.8" fill="#F07832" text-anchor="middle" dy="3.1" stroke="#F07832" stroke-width="0.22">0.12 eV</text>
<text transform="translate(380.3,262.4) rotate(5)" font-size="8.8" fill="#D7145A" text-anchor="middle" dy="3.1" stroke="#D7145A" stroke-width="0.22">0.37 eV</text>
<text transform="translate(344.6,277.7) rotate(26)" font-size="8.8" fill="#BE9628" text-anchor="middle" dy="3.1" stroke="#BE9628" stroke-width="0.22">1.41 eV</text>
<text transform="translate(344.6,309.6) rotate(8)" font-size="8.8" font-style="italic" fill="#1E1E1E" text-anchor="middle" dy="3.1" stroke="#1E1E1E" stroke-width="0.22">0.78 eV</text>
<text transform="translate(291.2,333.6) rotate(40)" font-size="8.8" fill="#1EAF50" text-anchor="middle" dy="3.1" stroke="#1EAF50" stroke-width="0.22">2.48 eV</text>
<line x1="358" y1="325.4" x2="375" y2="325.4" stroke="#1E1E1E" stroke-width="1.1"/>
<circle cx="366.70" cy="325.40" r="3.2" fill="url(#gK)"/>
<text x="377.8" y="328.30" font-size="8.4" fill="#231815" stroke="#231815" stroke-width="0.22">I<tspan font-size="5" dy="2.4">A</tspan></text>
<line x1="358" y1="334.5" x2="375" y2="334.5" stroke="#D7145A" stroke-width="1.1"/>
<circle cx="366.70" cy="334.50" r="3.2" fill="url(#gM)"/>
<text x="377.8" y="337.40" font-size="8.4" fill="#231815" stroke="#231815" stroke-width="0.22">I<tspan font-size="5" dy="2.4">B</tspan></text>
<line x1="358" y1="343.5" x2="375" y2="343.5" stroke="#1A8FE0" stroke-width="1.1"/>
<circle cx="366.70" cy="343.50" r="3.2" fill="url(#gB)"/>
<text x="377.8" y="346.40" font-size="8.4" fill="#231815" stroke="#231815" stroke-width="0.22">I<tspan font-size="5" dy="2.4">C</tspan></text>
<line x1="358" y1="352.6" x2="375" y2="352.6" stroke="#7A72C6" stroke-width="1.1"/>
<circle cx="366.70" cy="352.60" r="3.2" fill="url(#gP)"/>
<text x="377.8" y="355.50" font-size="8.4" fill="#231815" stroke="#231815" stroke-width="0.22">I<tspan font-size="5" dy="2.4">D</tspan></text>
<line x1="388" y1="334.5" x2="405.3" y2="334.5" stroke="#F07832" stroke-width="1.1"/>
<circle cx="396.70" cy="334.50" r="3.2" fill="url(#gO)"/>
<text x="407.3" y="337.40" font-size="8.4" fill="#231815" stroke="#231815" stroke-width="0.22">O<tspan font-size="5" dy="2.4">A</tspan></text>
<line x1="388" y1="343.5" x2="405.3" y2="343.5" stroke="#BE9628" stroke-width="1.1"/>
<circle cx="396.70" cy="343.50" r="3.2" fill="url(#gY)"/>
<text x="407.3" y="346.40" font-size="8.4" fill="#231815" stroke="#231815" stroke-width="0.22">O<tspan font-size="5" dy="2.4">B</tspan></text>
<line x1="388" y1="352.6" x2="405.3" y2="352.6" stroke="#1EAF50" stroke-width="1.1"/>
<circle cx="396.70" cy="352.60" r="3.2" fill="url(#gG)"/>
<text x="407.3" y="355.50" font-size="8.4" fill="#231815" stroke="#231815" stroke-width="0.22">O<tspan font-size="5" dy="2.4">C</tspan></text>
<text x="435.80" y="199.80" font-size="16" fill="#231815" text-anchor="start"  stroke="#231815" stroke-width="0.22">(e)</text>
<rect x="484.50" y="243.00" width="9.4" height="117.30" fill="#2A8F8D"/>
<rect x="493.90" y="304.10" width="9.4" height="56.20" fill="#EA8B73"/>
<rect x="507.45" y="318.90" width="9.4" height="41.40" fill="#2A8F8D"/>
<rect x="516.85" y="275.20" width="9.4" height="85.10" fill="#EA8B73"/>
<rect x="530.40" y="334.60" width="9.4" height="25.70" fill="#2A8F8D"/>
<rect x="539.80" y="256.40" width="9.4" height="103.90" fill="#EA8B73"/>
<rect x="553.35" y="356.80" width="9.4" height="3.50" fill="#2A8F8D"/>
<rect x="562.75" y="262.60" width="9.4" height="97.70" fill="#EA8B73"/>
<rect x="576.30" y="318.90" width="9.4" height="41.40" fill="#2A8F8D"/>
<rect x="585.70" y="256.90" width="9.4" height="103.40" fill="#EA8B73"/>
<rect x="599.25" y="320.50" width="9.4" height="39.80" fill="#2A8F8D"/>
<rect x="608.65" y="278.30" width="9.4" height="82.00" fill="#EA8B73"/>
<rect x="622.20" y="333.10" width="9.4" height="27.20" fill="#2A8F8D"/>
<rect x="631.60" y="348.80" width="9.4" height="11.50" fill="#EA8B73"/>
<polyline points="493.90,306.10 516.85,279.80 539.80,262.30 562.75,273.10 585.70,262.30 608.65,283.50 631.60,354.50" fill="none" stroke="#1a1a1a" stroke-width="1.3" stroke-dasharray="3.8,2.6"/>
<circle cx="493.90" cy="306.10" r="2.5" fill="#fff" stroke="#1a1a1a" stroke-width="0.75"/>
<circle cx="516.85" cy="279.80" r="2.5" fill="#fff" stroke="#1a1a1a" stroke-width="0.75"/>
<circle cx="539.80" cy="262.30" r="2.5" fill="#fff" stroke="#1a1a1a" stroke-width="0.75"/>
<circle cx="562.75" cy="273.10" r="2.5" fill="#fff" stroke="#1a1a1a" stroke-width="0.75"/>
<circle cx="585.70" cy="262.30" r="2.5" fill="#fff" stroke="#1a1a1a" stroke-width="0.75"/>
<circle cx="608.65" cy="283.50" r="2.5" fill="#fff" stroke="#1a1a1a" stroke-width="0.75"/>
<circle cx="631.60" cy="354.50" r="2.5" fill="#fff" stroke="#1a1a1a" stroke-width="0.75"/>
<rect x="470.6" y="212.4" width="183.89999999999998" height="147.9" fill="none" stroke="#1a1a1a" stroke-width="1.25"/>
<line x1="467.6" y1="360.30" x2="470.6" y2="360.30" stroke="#1a1a1a" stroke-width="0.9"/>
<text x="466.60" y="363.20" font-size="8.3" fill="#231815" text-anchor="end"  stroke="#231815" stroke-width="0.22">0.0</text>
<line x1="467.6" y1="330.72" x2="470.6" y2="330.72" stroke="#1a1a1a" stroke-width="0.9"/>
<text x="466.60" y="333.62" font-size="8.3" fill="#231815" text-anchor="end"  stroke="#231815" stroke-width="0.22">0.1</text>
<line x1="467.6" y1="301.14" x2="470.6" y2="301.14" stroke="#1a1a1a" stroke-width="0.9"/>
<text x="466.60" y="304.04" font-size="8.3" fill="#231815" text-anchor="end"  stroke="#231815" stroke-width="0.22">0.2</text>
<line x1="467.6" y1="271.56" x2="470.6" y2="271.56" stroke="#1a1a1a" stroke-width="0.9"/>
<text x="466.60" y="274.46" font-size="8.3" fill="#231815" text-anchor="end"  stroke="#231815" stroke-width="0.22">0.3</text>
<line x1="467.6" y1="241.98" x2="470.6" y2="241.98" stroke="#1a1a1a" stroke-width="0.9"/>
<text x="466.60" y="244.88" font-size="8.3" fill="#231815" text-anchor="end"  stroke="#231815" stroke-width="0.22">0.4</text>
<line x1="467.6" y1="212.40" x2="470.6" y2="212.40" stroke="#1a1a1a" stroke-width="0.9"/>
<text x="466.60" y="215.30" font-size="8.3" fill="#231815" text-anchor="end"  stroke="#231815" stroke-width="0.22">0.5</text>
<line x1="654.5" y1="223.18" x2="657.3" y2="223.18" stroke="#1a1a1a" stroke-width="0.9"/>
<text x="658.10" y="226.08" font-size="8.3" fill="#231815" text-anchor="start"  stroke="#231815" stroke-width="0.22">5</text>
<line x1="654.5" y1="250.60" x2="657.3" y2="250.60" stroke="#1a1a1a" stroke-width="0.9"/>
<text x="658.10" y="253.50" font-size="8.3" fill="#231815" text-anchor="start"  stroke="#231815" stroke-width="0.22">0</text>
<line x1="654.5" y1="278.02" x2="657.3" y2="278.02" stroke="#1a1a1a" stroke-width="0.9"/>
<text x="658.10" y="280.92" font-size="8.3" fill="#231815" text-anchor="start"  stroke="#231815" stroke-width="0.22">-5</text>
<line x1="654.5" y1="305.44" x2="657.3" y2="305.44" stroke="#1a1a1a" stroke-width="0.9"/>
<text x="658.10" y="308.34" font-size="8.3" fill="#231815" text-anchor="start"  stroke="#231815" stroke-width="0.22">-10</text>
<line x1="654.5" y1="332.86" x2="657.3" y2="332.86" stroke="#1a1a1a" stroke-width="0.9"/>
<text x="658.10" y="335.76" font-size="8.3" fill="#231815" text-anchor="start"  stroke="#231815" stroke-width="0.22">-15</text>
<line x1="654.5" y1="360.28" x2="657.3" y2="360.28" stroke="#1a1a1a" stroke-width="0.9"/>
<text x="658.10" y="363.18" font-size="8.3" fill="#231815" text-anchor="start"  stroke="#231815" stroke-width="0.22">-20</text>
<text x="494.30" y="371.2" font-size="9.2" fill="#231815" text-anchor="middle" stroke="#231815" stroke-width="0.22">I<tspan font-size="5.2" dy="3">A</tspan></text>
<text x="517.25" y="371.2" font-size="9.2" fill="#231815" text-anchor="middle" stroke="#231815" stroke-width="0.22">I<tspan font-size="5.2" dy="3">B</tspan></text>
<text x="540.20" y="371.2" font-size="9.2" fill="#231815" text-anchor="middle" stroke="#231815" stroke-width="0.22">I<tspan font-size="5.2" dy="3">C</tspan></text>
<text x="563.15" y="371.2" font-size="9.2" fill="#231815" text-anchor="middle" stroke="#231815" stroke-width="0.22">I<tspan font-size="5.2" dy="3">D</tspan></text>
<text x="586.10" y="371.2" font-size="9.2" fill="#231815" text-anchor="middle" stroke="#231815" stroke-width="0.22">O<tspan font-size="5.2" dy="3">A</tspan></text>
<text x="609.05" y="371.2" font-size="9.2" fill="#231815" text-anchor="middle" stroke="#231815" stroke-width="0.22">O<tspan font-size="5.2" dy="3">B</tspan></text>
<text x="632.00" y="371.2" font-size="9.2" fill="#231815" text-anchor="middle" stroke="#231815" stroke-width="0.22">O<tspan font-size="5.2" dy="3">C</tspan></text>
<text x="565.20" y="385.50" font-size="9.2" fill="#231815" text-anchor="middle"  stroke="#231815" stroke-width="0.22">Sites</text>
<text x="544.00" y="254.80" font-size="10.2" fill="#231815" text-anchor="middle"  stroke="#231815" stroke-width="0.22">-1.02</text>
<text x="590.20" y="255.50" font-size="10.2" fill="#231815" text-anchor="middle"  stroke="#231815" stroke-width="0.22">-1.22</text>
<rect x="605" y="216.3" width="19.9" height="9.6" fill="#2A8F8D"/>
<rect x="605" y="227.1" width="19.9" height="9.8" fill="#EA6E45"/>
<text x="627.2" y="224" font-size="8.7" fill="#231815" font-style="italic" stroke="#231815" stroke-width="0.22">P<tspan font-size="4.3" dy="2.2" font-style="normal">site</tspan></text>
<text x="627.2" y="234.4" font-size="8.7" fill="#231815" font-style="italic" stroke="#231815" stroke-width="0.22">r<tspan font-size="4.3" dy="2.2" font-style="normal">site</tspan></text>
<text transform="translate(452.6,287.3) rotate(-90)" font-size="9" fill="#231815" text-anchor="middle" stroke="#231815" stroke-width="0.22"><tspan font-style="italic">p</tspan><tspan font-size="4.5" dy="2">site</tspan></text>
<text transform="translate(681.0,282.1) rotate(-90)" font-size="10.7" fill="#231815" text-anchor="middle" stroke="#231815" stroke-width="0.22">log<tspan font-size="6.4" dy="2.4">10</tspan><tspan dy="-2.4">(</tspan><tspan font-style="italic">r</tspan><tspan font-size="5.3" dy="2.6">site</tspan><tspan dy="-2.6"> / s</tspan><tspan font-size="6.4" dy="-3.8">-1</tspan><tspan dy="3.8">)</tspan></text>
</svg>
</body></html>
